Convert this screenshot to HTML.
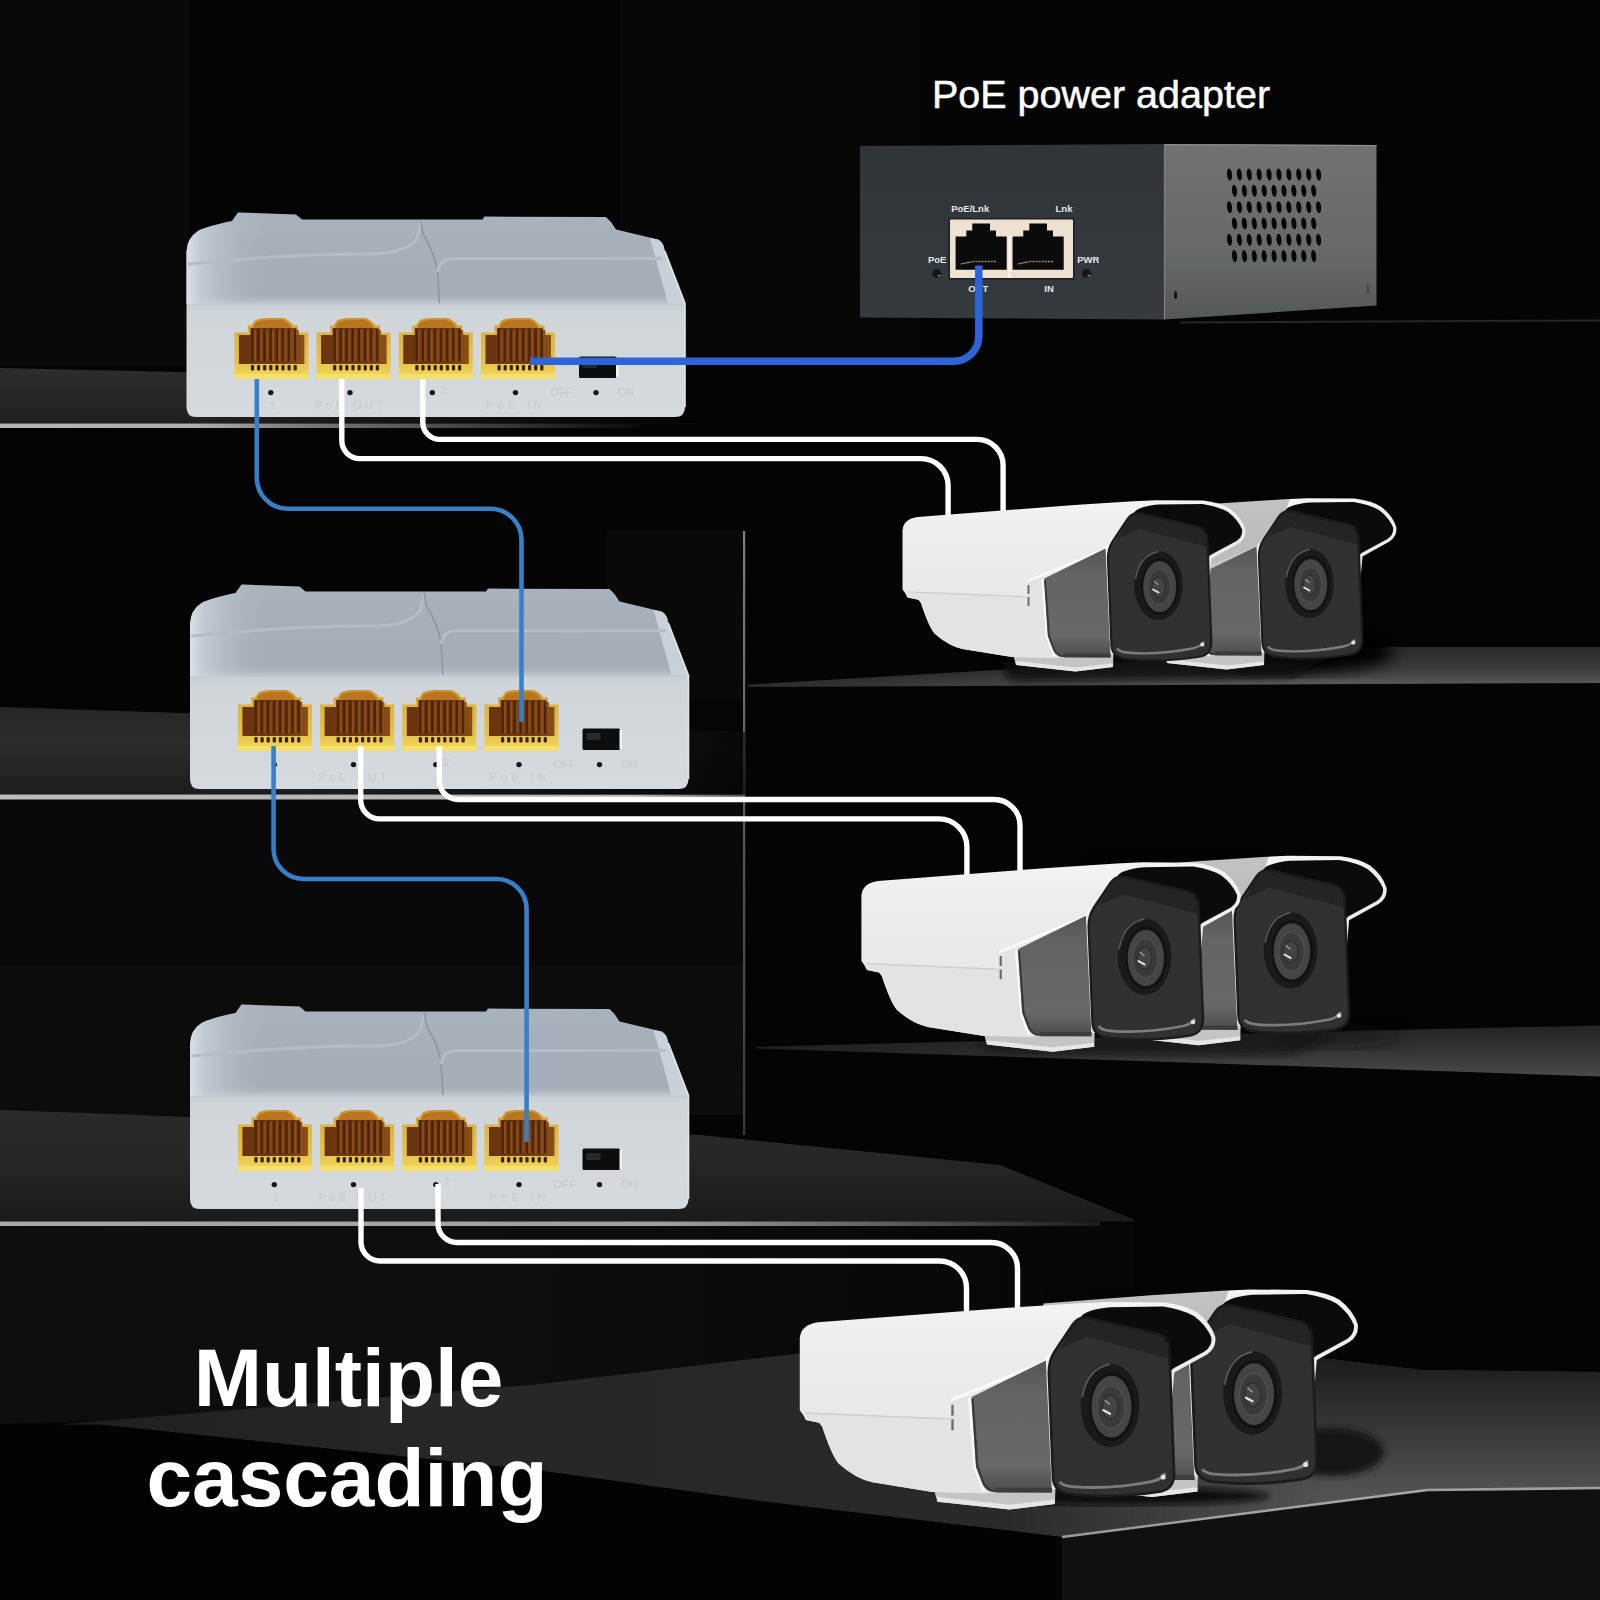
<!DOCTYPE html>
<html lang="en"><head><meta charset="utf-8"><title>Multiple cascading</title>
<style>
html,body{margin:0;padding:0;background:#050505;}
body{width:1600px;height:1600px;overflow:hidden;font-family:"Liberation Sans",sans-serif;}
svg{display:block;}
svg text{font-family:"Liberation Sans",sans-serif;}
</style></head><body>
<svg width="1600" height="1600" viewBox="0 0 1600 1600">

<defs>
  <linearGradient id="stepL" x1="0" y1="0" x2="0" y2="1">
    <stop offset="0" stop-color="#3d3d3d"/><stop offset="1" stop-color="#1b1b1b"/>
  </linearGradient>
  <linearGradient id="fadeR" x1="0" y1="0" x2="1" y2="0">
    <stop offset="0" stop-color="#fff" stop-opacity="1"/><stop offset="0.75" stop-color="#fff" stop-opacity="1"/><stop offset="1" stop-color="#fff" stop-opacity="0"/>
  </linearGradient>
  <linearGradient id="swTop" x1="0" y1="0" x2="0" y2="1">
    <stop offset="0" stop-color="#c9d1d9"/><stop offset="1" stop-color="#d3dae1"/>
  </linearGradient>
  <linearGradient id="swBody" x1="0" y1="212" x2="0" y2="417" gradientUnits="userSpaceOnUse">
    <stop offset="0" stop-color="#a9b3bd"/><stop offset="0.2" stop-color="#a5afb9"/><stop offset="0.4" stop-color="#a4aeb8"/><stop offset="0.425" stop-color="#adb6c0"/><stop offset="0.46" stop-color="#cbd2d7"/><stop offset="0.5" stop-color="#cfd5d9"/><stop offset="1" stop-color="#d5dade"/></linearGradient>
  <linearGradient id="swLeft" x1="186" y1="0" x2="262" y2="0" gradientUnits="userSpaceOnUse">
    <stop offset="0" stop-color="#dde3ea" stop-opacity="0.95"/><stop offset="0.2" stop-color="#cdd4dc" stop-opacity="0.7"/><stop offset="1" stop-color="#b0b9c3" stop-opacity="0"/>
  </linearGradient>
  <linearGradient id="swFront" x1="0" y1="0" x2="0" y2="1">
    <stop offset="0" stop-color="#dbe1e7"/><stop offset="1" stop-color="#e3e8ec"/>
  </linearGradient>
  <linearGradient id="portG" x1="0" y1="0" x2="0" y2="1">
    <stop offset="0" stop-color="#c9902a"/><stop offset="0.25" stop-color="#dcb440"/><stop offset="0.7" stop-color="#e4c24a"/><stop offset="1" stop-color="#f2d85c"/></linearGradient>
  <linearGradient id="portIn" x1="0" y1="0" x2="1" y2="0">
    <stop offset="0" stop-color="#6a3410"/><stop offset="0.7" stop-color="#733c12"/><stop offset="1" stop-color="#8a4f18"/></linearGradient>
  <linearGradient id="camSide" x1="0" y1="0" x2="0" y2="1">
    <stop offset="0" stop-color="#555"/><stop offset="0.25" stop-color="#646464"/><stop offset="0.8" stop-color="#686868"/><stop offset="1" stop-color="#4c4c4c"/></linearGradient>
  <linearGradient id="camBody" x1="0" y1="0" x2="0" y2="1">
    <stop offset="0" stop-color="#f4f4f4"/><stop offset="0.15" stop-color="#eeeeee"/><stop offset="0.55" stop-color="#e9e9e9"/><stop offset="1" stop-color="#e6e6e6"/></linearGradient>
  <linearGradient id="camFront" x1="0" y1="0" x2="0" y2="1">
    <stop offset="0" stop-color="#262626"/><stop offset="1" stop-color="#303030"/>
  </linearGradient>
  <linearGradient id="adFront" x1="0" y1="0" x2="0" y2="1">
    <stop offset="0" stop-color="#30353a"/><stop offset="1" stop-color="#343a3d"/></linearGradient>
  <linearGradient id="adSide" x1="0" y1="0" x2="0" y2="1">
    <stop offset="0" stop-color="#6f7472"/><stop offset="0.6" stop-color="#666b6a"/><stop offset="1" stop-color="#54585a"/></linearGradient>
  <linearGradient id="floorG" x1="0" y1="0" x2="1" y2="0">
    <stop offset="0" stop-color="#1c1c1c"/><stop offset="0.5" stop-color="#2e2e2e"/><stop offset="1" stop-color="#2a2a2a"/>
  </linearGradient>
  <filter id="b1"><feGaussianBlur stdDeviation="1"/></filter>
  <filter id="b3"><feGaussianBlur stdDeviation="3"/></filter>
  <filter id="b8"><feGaussianBlur stdDeviation="8"/></filter>
</defs>

<g id="bg"><rect x="0" y="0" width="1600" height="1600" fill="#040404"/>
<rect x="0" y="0" width="190" height="366" fill="#090909"/>
<rect x="620" y="0" width="300" height="366" fill="#070707"/>
<rect x="0" y="800" width="745" height="310" fill="#090909"/>
<rect x="0" y="965" width="745" height="150" fill="#0c0c0c"/>
<linearGradient id="us3" gradientUnits="userSpaceOnUse" x1="500" y1="0" x2="1134" y2="0"><stop offset="0" stop-color="#0e0e0e"/><stop offset="1" stop-color="#060606"/></linearGradient>
<path d="M0,1224 L1134,1224 L1134,1345 L850,1348 L540,1384 L100,1421 L0,1424 Z" fill="url(#us3)"/>
<path d="M1180,322.5 L1600,320.5" stroke="#262626" stroke-width="2" fill="none"/>
<rect x="606" y="531" width="137" height="270" fill="#090909"/>
<linearGradient id="pil" gradientUnits="userSpaceOnUse" x1="0" y1="531" x2="0" y2="1135"><stop offset="0" stop-color="#808080"/><stop offset="0.45" stop-color="#5c5c5c"/><stop offset="1" stop-color="#3a3a3a"/></linearGradient>
<rect x="743" y="531" width="2.2" height="604" fill="url(#pil)"/>
<linearGradient id="lnF" gradientUnits="userSpaceOnUse" x1="0" y1="0" x2="640" y2="0"><stop offset="0" stop-color="#b4b4b4"/><stop offset="0.3" stop-color="#b0b0b0"/><stop offset="0.45" stop-color="#808080"/><stop offset="1" stop-color="#0a0a0a"/></linearGradient>
<linearGradient id="lnF2" gradientUnits="userSpaceOnUse" x1="0" y1="0" x2="745" y2="0"><stop offset="0" stop-color="#bcbcbc"/><stop offset="0.85" stop-color="#b4b4b4"/><stop offset="1" stop-color="#555"/></linearGradient>
<linearGradient id="st1" gradientUnits="userSpaceOnUse" x1="0" y1="368" x2="0" y2="423.5"><stop offset="0" stop-color="#2d2d2d"/><stop offset="0.4" stop-color="#282828"/><stop offset="1" stop-color="#1f1f1f"/></linearGradient>
<path d="M0,368 L700,384 L700,423.5 L0,423.5 Z" fill="url(#st1)"/>
<rect x="0" y="423.5" width="640" height="4.5" fill="url(#lnF)"/>
<linearGradient id="st2" gradientUnits="userSpaceOnUse" x1="0" y1="707" x2="0" y2="794.5"><stop offset="0" stop-color="#262626"/><stop offset="0.4" stop-color="#2d2d2d"/><stop offset="1" stop-color="#1d1d1d"/></linearGradient>
<path d="M0,707 L745,732 L745,794.5 L0,794.5 Z" fill="url(#st2)"/>
<rect x="0" y="794.5" width="745" height="5" fill="url(#lnF2)"/>
<linearGradient id="fadeK" gradientUnits="userSpaceOnUse" x1="200" y1="0" x2="680" y2="0"><stop offset="0" stop-color="#040404" stop-opacity="0"/><stop offset="1" stop-color="#040404" stop-opacity="1"/></linearGradient>
<rect x="200" y="360" width="600" height="63.5" fill="url(#fadeK)"/>
<linearGradient id="fadeK2" gradientUnits="userSpaceOnUse" x1="300" y1="0" x2="745" y2="0"><stop offset="0" stop-color="#040404" stop-opacity="0"/><stop offset="1" stop-color="#040404" stop-opacity="0.9"/></linearGradient>
<rect x="300" y="700" width="443" height="94.5" fill="url(#fadeK2)"/>
<linearGradient id="st3" gradientUnits="userSpaceOnUse" x1="0" y1="1110" x2="0" y2="1221.5"><stop offset="0" stop-color="#2a2a2a"/><stop offset="0.4" stop-color="#272727"/><stop offset="1" stop-color="#1b1b1b"/></linearGradient>
<path d="M0,1110 L700,1135 L1000,1165 L1134,1219.5 L1134,1221.5 L0,1221.5 Z" fill="url(#st3)"/>
<linearGradient id="ln3" gradientUnits="userSpaceOnUse" x1="0" y1="0" x2="1100" y2="0"><stop offset="0" stop-color="#a8a8a8"/><stop offset="0.6" stop-color="#a0a0a0"/><stop offset="0.85" stop-color="#505050"/><stop offset="1" stop-color="#1a1a1a"/></linearGradient>
<rect x="0" y="1221.5" width="1100" height="4.5" fill="url(#ln3)"/>
<linearGradient id="sh1" gradientUnits="userSpaceOnUse" x1="0" y1="647" x2="0" y2="684"><stop offset="0" stop-color="#2a2a2a"/><stop offset="0.6" stop-color="#3c3c3c"/><stop offset="1" stop-color="#585858"/></linearGradient>
<path d="M748,684.5 L1390,647 L1600,647 L1600,683 L748,687 Z" fill="url(#sh1)"/>
<linearGradient id="shF" gradientUnits="userSpaceOnUse" x1="748" y1="0" x2="1250" y2="0"><stop offset="0" stop-color="#040404" stop-opacity="0.55"/><stop offset="1" stop-color="#040404" stop-opacity="0"/></linearGradient>
<rect x="747" y="640" width="513" height="50" fill="url(#shF)"/>
<linearGradient id="sh2" gradientUnits="userSpaceOnUse" x1="0" y1="1026" x2="0" y2="1076"><stop offset="0" stop-color="#242424"/><stop offset="0.55" stop-color="#363636"/><stop offset="1" stop-color="#4a4a4a"/></linearGradient>
<path d="M756,1047 L1392,1030 L1600,1025.5 L1600,1076.5 L1200,1063 L756,1048.5 Z" fill="url(#sh2)"/>
<linearGradient id="shF2" gradientUnits="userSpaceOnUse" x1="756" y1="0" x2="1250" y2="0"><stop offset="0" stop-color="#040404" stop-opacity="0.4"/><stop offset="1" stop-color="#040404" stop-opacity="0"/></linearGradient>
<rect x="750" y="1020" width="520" height="72" fill="url(#shF2)"/>
<ellipse cx="1290" cy="652" rx="105" ry="22" fill="#050505" filter="url(#b8)"/>
<path d="M1000,662 L1300,640 L1340,652 L1290,678 L1010,681 Z" fill="#080808" opacity="0.8" filter="url(#b3)"/>
<ellipse cx="1340" cy="1036" rx="60" ry="12" fill="#0c0c0c" opacity="0.45" filter="url(#b8)"/>
<path d="M975,1041 L1290,1030 L1335,1038 L1290,1056 L990,1052 Z" fill="#0a0a0a" opacity="0.55" filter="url(#b3)"/>
<linearGradient id="fl" gradientUnits="userSpaceOnUse" x1="60" y1="0" x2="1100" y2="0"><stop offset="0" stop-color="#1f1f1f"/><stop offset="0.3" stop-color="#262626"/><stop offset="1" stop-color="#2a2a2a"/></linearGradient>
<path d="M60,1424.5 L100,1421 L540,1384 L760,1358 L850,1348 L1313,1357 L1422,1370 L1600,1372 L1600,1488 L1427.5,1490 L1062,1537 L760,1501 L540,1470.6 L100,1424.5 Z" fill="url(#fl)"/>
<linearGradient id="flv" gradientUnits="userSpaceOnUse" x1="0" y1="1360" x2="0" y2="1492"><stop offset="0" stop-color="#1c1c1c"/><stop offset="0.5" stop-color="#363636"/><stop offset="1" stop-color="#525252"/></linearGradient>
<linearGradient id="flm" gradientUnits="userSpaceOnUse" x1="1000" y1="0" x2="1320" y2="0"><stop offset="0" stop-color="#fff" stop-opacity="0"/><stop offset="1" stop-color="#fff" stop-opacity="1"/></linearGradient>
<mask id="flmask"><rect x="0" y="1300" width="1600" height="300" fill="url(#flm)"/></mask>
<path d="M60,1424.5 L100,1421 L540,1384 L760,1358 L850,1348 L1313,1357 L1422,1370 L1600,1372 L1600,1488 L1427.5,1490 L1062,1537 L760,1501 L540,1470.6 L100,1424.5 Z" fill="url(#flv)" mask="url(#flmask)"/>
<path d="M1062,1537 L1427.5,1490 L1600,1488 L1600,1600 L1062,1600 Z" fill="#101010"/>
<path d="M60,1425.5 L100,1425 L540,1471 L760,1501.5 L1062,1537 L1062,1600 L0,1600 L0,1425.5 Z" fill="#030303"/>
<linearGradient id="fle" gradientUnits="userSpaceOnUse" x1="1062" y1="0" x2="1430" y2="0"><stop offset="0" stop-color="#9a9a9a"/><stop offset="1" stop-color="#a8a8a8"/></linearGradient>
<path d="M1062,1537 L1427.5,1490" stroke="url(#fle)" stroke-width="2.4" fill="none"/>
<path d="M1427.5,1490 L1600,1488" stroke="#a0a0a0" stroke-width="2.6" fill="none"/>
<ellipse cx="1332" cy="1452" rx="52" ry="24" fill="#141414" filter="url(#b3)"/>
<ellipse cx="1120" cy="1496" rx="150" ry="9" fill="#0c0c0c" filter="url(#b3)"/></g>
<!--SHELVES-->
<g id="adapter"><path d="M860,146 L1164,144 L1164,319.5 L860,317.5 Z" fill="url(#adFront)"/>
<path d="M1164,144 L1376.5,145 L1376.5,305.5 L1164,319.5 Z" fill="url(#adSide)"/>
<path d="M1164,144.6 L1376.5,145.6" stroke="#8a8f8d" stroke-width="1.4" fill="none"/>
<path d="M1164.5,144 L1164.5,319.5" stroke="#7e8381" stroke-width="1.2" fill="none"/>
<ellipse cx="1229.5" cy="174.5" rx="2.5" ry="6" fill="#050606" transform="rotate(-6 1229.5 174.5)"/>
<ellipse cx="1239.4" cy="174.5" rx="2.5" ry="6" fill="#050606" transform="rotate(-6 1239.4 174.5)"/>
<ellipse cx="1249.3" cy="174.5" rx="2.5" ry="6" fill="#050606" transform="rotate(-6 1249.3 174.5)"/>
<ellipse cx="1259.2" cy="174.5" rx="2.5" ry="6" fill="#050606" transform="rotate(-6 1259.2 174.5)"/>
<ellipse cx="1269.1" cy="174.5" rx="2.5" ry="6" fill="#050606" transform="rotate(-6 1269.1 174.5)"/>
<ellipse cx="1279.0" cy="174.5" rx="2.5" ry="6" fill="#050606" transform="rotate(-6 1279.0 174.5)"/>
<ellipse cx="1288.9" cy="174.5" rx="2.5" ry="6" fill="#050606" transform="rotate(-6 1288.9 174.5)"/>
<ellipse cx="1298.8" cy="174.5" rx="2.5" ry="6" fill="#050606" transform="rotate(-6 1298.8 174.5)"/>
<ellipse cx="1308.7" cy="174.5" rx="2.5" ry="6" fill="#050606" transform="rotate(-6 1308.7 174.5)"/>
<ellipse cx="1318.6" cy="174.5" rx="2.5" ry="6" fill="#050606" transform="rotate(-6 1318.6 174.5)"/>
<ellipse cx="1234.5" cy="190.8" rx="2.5" ry="6" fill="#050606" transform="rotate(-6 1234.5 190.8)"/>
<ellipse cx="1244.4" cy="190.8" rx="2.5" ry="6" fill="#050606" transform="rotate(-6 1244.4 190.8)"/>
<ellipse cx="1254.3" cy="190.8" rx="2.5" ry="6" fill="#050606" transform="rotate(-6 1254.3 190.8)"/>
<ellipse cx="1264.2" cy="190.8" rx="2.5" ry="6" fill="#050606" transform="rotate(-6 1264.2 190.8)"/>
<ellipse cx="1274.1" cy="190.8" rx="2.5" ry="6" fill="#050606" transform="rotate(-6 1274.1 190.8)"/>
<ellipse cx="1284.0" cy="190.8" rx="2.5" ry="6" fill="#050606" transform="rotate(-6 1284.0 190.8)"/>
<ellipse cx="1293.9" cy="190.8" rx="2.5" ry="6" fill="#050606" transform="rotate(-6 1293.9 190.8)"/>
<ellipse cx="1303.8" cy="190.8" rx="2.5" ry="6" fill="#050606" transform="rotate(-6 1303.8 190.8)"/>
<ellipse cx="1313.7" cy="190.8" rx="2.5" ry="6" fill="#050606" transform="rotate(-6 1313.7 190.8)"/>
<ellipse cx="1229.5" cy="207.1" rx="2.5" ry="6" fill="#050606" transform="rotate(-6 1229.5 207.1)"/>
<ellipse cx="1239.4" cy="207.1" rx="2.5" ry="6" fill="#050606" transform="rotate(-6 1239.4 207.1)"/>
<ellipse cx="1249.3" cy="207.1" rx="2.5" ry="6" fill="#050606" transform="rotate(-6 1249.3 207.1)"/>
<ellipse cx="1259.2" cy="207.1" rx="2.5" ry="6" fill="#050606" transform="rotate(-6 1259.2 207.1)"/>
<ellipse cx="1269.1" cy="207.1" rx="2.5" ry="6" fill="#050606" transform="rotate(-6 1269.1 207.1)"/>
<ellipse cx="1279.0" cy="207.1" rx="2.5" ry="6" fill="#050606" transform="rotate(-6 1279.0 207.1)"/>
<ellipse cx="1288.9" cy="207.1" rx="2.5" ry="6" fill="#050606" transform="rotate(-6 1288.9 207.1)"/>
<ellipse cx="1298.8" cy="207.1" rx="2.5" ry="6" fill="#050606" transform="rotate(-6 1298.8 207.1)"/>
<ellipse cx="1308.7" cy="207.1" rx="2.5" ry="6" fill="#050606" transform="rotate(-6 1308.7 207.1)"/>
<ellipse cx="1318.6" cy="207.1" rx="2.5" ry="6" fill="#050606" transform="rotate(-6 1318.6 207.1)"/>
<ellipse cx="1234.5" cy="223.4" rx="2.5" ry="6" fill="#050606" transform="rotate(-6 1234.5 223.4)"/>
<ellipse cx="1244.4" cy="223.4" rx="2.5" ry="6" fill="#050606" transform="rotate(-6 1244.4 223.4)"/>
<ellipse cx="1254.3" cy="223.4" rx="2.5" ry="6" fill="#050606" transform="rotate(-6 1254.3 223.4)"/>
<ellipse cx="1264.2" cy="223.4" rx="2.5" ry="6" fill="#050606" transform="rotate(-6 1264.2 223.4)"/>
<ellipse cx="1274.1" cy="223.4" rx="2.5" ry="6" fill="#050606" transform="rotate(-6 1274.1 223.4)"/>
<ellipse cx="1284.0" cy="223.4" rx="2.5" ry="6" fill="#050606" transform="rotate(-6 1284.0 223.4)"/>
<ellipse cx="1293.9" cy="223.4" rx="2.5" ry="6" fill="#050606" transform="rotate(-6 1293.9 223.4)"/>
<ellipse cx="1303.8" cy="223.4" rx="2.5" ry="6" fill="#050606" transform="rotate(-6 1303.8 223.4)"/>
<ellipse cx="1313.7" cy="223.4" rx="2.5" ry="6" fill="#050606" transform="rotate(-6 1313.7 223.4)"/>
<ellipse cx="1229.5" cy="239.7" rx="2.5" ry="6" fill="#050606" transform="rotate(-6 1229.5 239.7)"/>
<ellipse cx="1239.4" cy="239.7" rx="2.5" ry="6" fill="#050606" transform="rotate(-6 1239.4 239.7)"/>
<ellipse cx="1249.3" cy="239.7" rx="2.5" ry="6" fill="#050606" transform="rotate(-6 1249.3 239.7)"/>
<ellipse cx="1259.2" cy="239.7" rx="2.5" ry="6" fill="#050606" transform="rotate(-6 1259.2 239.7)"/>
<ellipse cx="1269.1" cy="239.7" rx="2.5" ry="6" fill="#050606" transform="rotate(-6 1269.1 239.7)"/>
<ellipse cx="1279.0" cy="239.7" rx="2.5" ry="6" fill="#050606" transform="rotate(-6 1279.0 239.7)"/>
<ellipse cx="1288.9" cy="239.7" rx="2.5" ry="6" fill="#050606" transform="rotate(-6 1288.9 239.7)"/>
<ellipse cx="1298.8" cy="239.7" rx="2.5" ry="6" fill="#050606" transform="rotate(-6 1298.8 239.7)"/>
<ellipse cx="1308.7" cy="239.7" rx="2.5" ry="6" fill="#050606" transform="rotate(-6 1308.7 239.7)"/>
<ellipse cx="1318.6" cy="239.7" rx="2.5" ry="6" fill="#050606" transform="rotate(-6 1318.6 239.7)"/>
<ellipse cx="1234.5" cy="256.0" rx="2.5" ry="6" fill="#050606" transform="rotate(-6 1234.5 256.0)"/>
<ellipse cx="1244.4" cy="256.0" rx="2.5" ry="6" fill="#050606" transform="rotate(-6 1244.4 256.0)"/>
<ellipse cx="1254.3" cy="256.0" rx="2.5" ry="6" fill="#050606" transform="rotate(-6 1254.3 256.0)"/>
<ellipse cx="1264.2" cy="256.0" rx="2.5" ry="6" fill="#050606" transform="rotate(-6 1264.2 256.0)"/>
<ellipse cx="1274.1" cy="256.0" rx="2.5" ry="6" fill="#050606" transform="rotate(-6 1274.1 256.0)"/>
<ellipse cx="1284.0" cy="256.0" rx="2.5" ry="6" fill="#050606" transform="rotate(-6 1284.0 256.0)"/>
<ellipse cx="1293.9" cy="256.0" rx="2.5" ry="6" fill="#050606" transform="rotate(-6 1293.9 256.0)"/>
<ellipse cx="1303.8" cy="256.0" rx="2.5" ry="6" fill="#050606" transform="rotate(-6 1303.8 256.0)"/>
<ellipse cx="1313.7" cy="256.0" rx="2.5" ry="6" fill="#050606" transform="rotate(-6 1313.7 256.0)"/>
<ellipse cx="1175.5" cy="295" rx="1.6" ry="4" fill="#151718"/>
<ellipse cx="1368" cy="289" rx="1.8" ry="5" fill="#4a4e4f"/>
<rect x="948.5" y="218" width="126" height="61.5" rx="1.5" fill="#1d1f20"/>
<rect x="950" y="219.5" width="123" height="58.5" rx="1" fill="#efe1d2"/>
<rect x="1008.2" y="236" width="2.6" height="42" fill="#fbf3ea"/>
<path d="M955.6,236.6 L966.3,236.6 L966.3,230.6 L972.3,230.6 L972.3,223.5 L990,223.5 L990,230.6 L996,230.6 L996,236.6 L1006.7,236.6 L1006.7,269.8 L955.6,269.8 Z" fill="#0b0b0c"/>
<path d="M972.3,261.5 L997,261.5" stroke="#9a8f74" stroke-width="1.4" stroke-dasharray="2 1.1" fill="none"/>
<path d="M960.6,264 L971.3,261.8" stroke="#8c8c86" stroke-width="1.2" fill="none"/>
<path d="M1012.6,236.6 L1023.3,236.6 L1023.3,230.6 L1029.3,230.6 L1029.3,223.5 L1047,223.5 L1047,230.6 L1053,230.6 L1053,236.6 L1063.7,236.6 L1063.7,269.8 L1012.6,269.8 Z" fill="#0b0b0c"/>
<path d="M1029.3,261.5 L1054,261.5" stroke="#9a8f74" stroke-width="1.4" stroke-dasharray="2 1.1" fill="none"/>
<path d="M1017.6,264 L1028.3,261.8" stroke="#8c8c86" stroke-width="1.2" fill="none"/>
<circle cx="936.8" cy="273.4" r="4.4" fill="#141617"/>
<path d="M937.8,276 L940.4,275.2" stroke="#a8acae" stroke-width="1.2" fill="none"/>
<circle cx="1086.5" cy="273.4" r="4.4" fill="#141617"/>
<path d="M1087.5,276 L1090.1,275.2" stroke="#a8acae" stroke-width="1.2" fill="none"/>
<text x="970.2" y="212.2" font-size="9.5" font-weight="bold" fill="#e6e8e9" text-anchor="middle">PoE/Lnk</text>
<text x="1064" y="212.2" font-size="9.5" font-weight="bold" fill="#e6e8e9" text-anchor="middle">Lnk</text>
<text x="937.2" y="262.6" font-size="9.5" font-weight="bold" fill="#e6e8e9" text-anchor="middle">PoE</text>
<text x="1088.3" y="262.6" font-size="9.5" font-weight="bold" fill="#e6e8e9" text-anchor="middle">PWR</text>
<text x="978.2" y="291.7" font-size="9.5" font-weight="bold" fill="#e6e8e9" text-anchor="middle">OUT</text>
<text x="1049" y="291.7" font-size="9.5" font-weight="bold" fill="#e6e8e9" text-anchor="middle">IN</text></g>
<g id="switches"><g transform="translate(0,0)">
<path d="M196,417 Q186.5,417 186.5,407 L186.5,252 Q187,238 198,231 Q206,226.5 232,221 L238,212.5 L296,214.5 L302,219.5 L422,219.5 L482.5,219.4 L484.5,216.6 L606,217 L611,222 L616,229.5 L658,239.5 Q663.5,242 664.8,251 L685,303.5 L685,407 Q685,417 675,417 Z" fill="url(#swBody)"/>
<path d="M186.5,304 L186.5,252 Q187,238 198,231 Q206,226.5 232,221 L238,212.5 L262,213.5 L262,303 Z" fill="url(#swLeft)"/>
<path d="M650,238 L658,239.5 Q663.5,242 664.8,251 L685,303.5 L668,303.5 Z" fill="#cfd6dc" opacity="0.85"/>
<path d="M664.8,251 L685,303.5 L685,407" fill="none" stroke="#e1e6ea" stroke-width="1.6"/>
<path d="M188,264 Q300,253 372,254 Q408,253 417,238 L421,222" fill="none" stroke="#b3bdc7" stroke-width="3"/>
<path d="M420.6,221 L423.4,234.4 Q434,252 437.5,270 L439.4,303" fill="none" stroke="#87919c" stroke-width="1.3"/>
<path d="M437.8,272 Q439,259.5 452,258.8 L662.5,258.6" fill="none" stroke="#b3bdc7" stroke-width="3"/>
<path d="M255.4,320 Q261.4,318 267.4,318 L282.4,318 Q288.4,319 293.4,325.5 L297.9,325.5 L297.9,332.5 L308.4,332.5 L308.4,379 L234.4,379 L234.4,332.5 L247.9,332.5 L247.9,325.5 L251.4,325.5 Z" fill="url(#portG)"/>
<path d="M256.4,322 Q262.4,320 268.4,320 L281.4,320 Q287.4,321 291.4,327 L291.4,330 L253.4,330 L253.4,326 Z" fill="#b9761f"/>
<path d="M250.4,328 L295.4,328 L295.4,335 L304.4,335 L304.4,364 L238.9,364 L238.9,335 L250.4,335 Z" fill="url(#portIn)"/>
<rect x="251.2" y="328.5" width="2.6" height="33" fill="#4e240a"/>
<rect x="253.8" y="330" width="2.2" height="31" fill="#8a4c1b"/>
<rect x="250.9" y="365" width="3.2" height="5.5" rx="1.2" fill="#3b2207"/>
<rect x="257.3" y="328.5" width="2.6" height="33" fill="#4e240a"/>
<rect x="259.9" y="330" width="2.2" height="31" fill="#8a4c1b"/>
<rect x="257.0" y="365" width="3.2" height="5.5" rx="1.2" fill="#3b2207"/>
<rect x="263.4" y="328.5" width="2.6" height="33" fill="#4e240a"/>
<rect x="266.0" y="330" width="2.2" height="31" fill="#8a4c1b"/>
<rect x="263.1" y="365" width="3.2" height="5.5" rx="1.2" fill="#3b2207"/>
<rect x="269.5" y="328.5" width="2.6" height="33" fill="#4e240a"/>
<rect x="272.1" y="330" width="2.2" height="31" fill="#8a4c1b"/>
<rect x="269.2" y="365" width="3.2" height="5.5" rx="1.2" fill="#3b2207"/>
<rect x="275.6" y="328.5" width="2.6" height="33" fill="#4e240a"/>
<rect x="278.2" y="330" width="2.2" height="31" fill="#8a4c1b"/>
<rect x="275.3" y="365" width="3.2" height="5.5" rx="1.2" fill="#3b2207"/>
<rect x="281.7" y="328.5" width="2.6" height="33" fill="#4e240a"/>
<rect x="284.3" y="330" width="2.2" height="31" fill="#8a4c1b"/>
<rect x="281.4" y="365" width="3.2" height="5.5" rx="1.2" fill="#3b2207"/>
<rect x="287.8" y="328.5" width="2.6" height="33" fill="#4e240a"/>
<rect x="290.4" y="330" width="2.2" height="31" fill="#8a4c1b"/>
<rect x="287.5" y="365" width="3.2" height="5.5" rx="1.2" fill="#3b2207"/>
<rect x="293.9" y="328.5" width="2.6" height="33" fill="#4e240a"/>
<rect x="296.5" y="330" width="2.2" height="31" fill="#8a4c1b"/>
<rect x="293.6" y="365" width="3.2" height="5.5" rx="1.2" fill="#3b2207"/>
<rect x="234.4" y="374" width="74" height="5" fill="#f5e06a"/>
<path d="M337.6,320 Q343.6,318 349.6,318 L364.6,318 Q370.6,319 375.6,325.5 L380.1,325.5 L380.1,332.5 L390.6,332.5 L390.6,379 L316.6,379 L316.6,332.5 L330.1,332.5 L330.1,325.5 L333.6,325.5 Z" fill="url(#portG)"/>
<path d="M338.6,322 Q344.6,320 350.6,320 L363.6,320 Q369.6,321 373.6,327 L373.6,330 L335.6,330 L335.6,326 Z" fill="#b9761f"/>
<path d="M332.6,328 L377.6,328 L377.6,335 L386.6,335 L386.6,364 L321.1,364 L321.1,335 L332.6,335 Z" fill="url(#portIn)"/>
<rect x="333.4" y="328.5" width="2.6" height="33" fill="#4e240a"/>
<rect x="336.0" y="330" width="2.2" height="31" fill="#8a4c1b"/>
<rect x="333.1" y="365" width="3.2" height="5.5" rx="1.2" fill="#3b2207"/>
<rect x="339.5" y="328.5" width="2.6" height="33" fill="#4e240a"/>
<rect x="342.1" y="330" width="2.2" height="31" fill="#8a4c1b"/>
<rect x="339.2" y="365" width="3.2" height="5.5" rx="1.2" fill="#3b2207"/>
<rect x="345.6" y="328.5" width="2.6" height="33" fill="#4e240a"/>
<rect x="348.2" y="330" width="2.2" height="31" fill="#8a4c1b"/>
<rect x="345.3" y="365" width="3.2" height="5.5" rx="1.2" fill="#3b2207"/>
<rect x="351.7" y="328.5" width="2.6" height="33" fill="#4e240a"/>
<rect x="354.3" y="330" width="2.2" height="31" fill="#8a4c1b"/>
<rect x="351.4" y="365" width="3.2" height="5.5" rx="1.2" fill="#3b2207"/>
<rect x="357.8" y="328.5" width="2.6" height="33" fill="#4e240a"/>
<rect x="360.4" y="330" width="2.2" height="31" fill="#8a4c1b"/>
<rect x="357.5" y="365" width="3.2" height="5.5" rx="1.2" fill="#3b2207"/>
<rect x="363.9" y="328.5" width="2.6" height="33" fill="#4e240a"/>
<rect x="366.5" y="330" width="2.2" height="31" fill="#8a4c1b"/>
<rect x="363.6" y="365" width="3.2" height="5.5" rx="1.2" fill="#3b2207"/>
<rect x="370.0" y="328.5" width="2.6" height="33" fill="#4e240a"/>
<rect x="372.6" y="330" width="2.2" height="31" fill="#8a4c1b"/>
<rect x="369.7" y="365" width="3.2" height="5.5" rx="1.2" fill="#3b2207"/>
<rect x="376.1" y="328.5" width="2.6" height="33" fill="#4e240a"/>
<rect x="378.7" y="330" width="2.2" height="31" fill="#8a4c1b"/>
<rect x="375.8" y="365" width="3.2" height="5.5" rx="1.2" fill="#3b2207"/>
<rect x="316.6" y="374" width="74" height="5" fill="#f5e06a"/>
<path d="M419.8,320 Q425.8,318 431.8,318 L446.8,318 Q452.8,319 457.8,325.5 L462.3,325.5 L462.3,332.5 L472.8,332.5 L472.8,379 L398.8,379 L398.8,332.5 L412.3,332.5 L412.3,325.5 L415.8,325.5 Z" fill="url(#portG)"/>
<path d="M420.8,322 Q426.8,320 432.8,320 L445.8,320 Q451.8,321 455.8,327 L455.8,330 L417.8,330 L417.8,326 Z" fill="#b9761f"/>
<path d="M414.8,328 L459.8,328 L459.8,335 L468.8,335 L468.8,364 L403.3,364 L403.3,335 L414.8,335 Z" fill="url(#portIn)"/>
<rect x="415.6" y="328.5" width="2.6" height="33" fill="#4e240a"/>
<rect x="418.2" y="330" width="2.2" height="31" fill="#8a4c1b"/>
<rect x="415.3" y="365" width="3.2" height="5.5" rx="1.2" fill="#3b2207"/>
<rect x="421.7" y="328.5" width="2.6" height="33" fill="#4e240a"/>
<rect x="424.3" y="330" width="2.2" height="31" fill="#8a4c1b"/>
<rect x="421.4" y="365" width="3.2" height="5.5" rx="1.2" fill="#3b2207"/>
<rect x="427.8" y="328.5" width="2.6" height="33" fill="#4e240a"/>
<rect x="430.4" y="330" width="2.2" height="31" fill="#8a4c1b"/>
<rect x="427.5" y="365" width="3.2" height="5.5" rx="1.2" fill="#3b2207"/>
<rect x="433.9" y="328.5" width="2.6" height="33" fill="#4e240a"/>
<rect x="436.5" y="330" width="2.2" height="31" fill="#8a4c1b"/>
<rect x="433.6" y="365" width="3.2" height="5.5" rx="1.2" fill="#3b2207"/>
<rect x="440.0" y="328.5" width="2.6" height="33" fill="#4e240a"/>
<rect x="442.6" y="330" width="2.2" height="31" fill="#8a4c1b"/>
<rect x="439.7" y="365" width="3.2" height="5.5" rx="1.2" fill="#3b2207"/>
<rect x="446.1" y="328.5" width="2.6" height="33" fill="#4e240a"/>
<rect x="448.7" y="330" width="2.2" height="31" fill="#8a4c1b"/>
<rect x="445.8" y="365" width="3.2" height="5.5" rx="1.2" fill="#3b2207"/>
<rect x="452.2" y="328.5" width="2.6" height="33" fill="#4e240a"/>
<rect x="454.8" y="330" width="2.2" height="31" fill="#8a4c1b"/>
<rect x="451.9" y="365" width="3.2" height="5.5" rx="1.2" fill="#3b2207"/>
<rect x="458.3" y="328.5" width="2.6" height="33" fill="#4e240a"/>
<rect x="460.9" y="330" width="2.2" height="31" fill="#8a4c1b"/>
<rect x="458.0" y="365" width="3.2" height="5.5" rx="1.2" fill="#3b2207"/>
<rect x="398.8" y="374" width="74" height="5" fill="#f5e06a"/>
<path d="M502.0,320 Q508.0,318 514.0,318 L529.0,318 Q535.0,319 540.0,325.5 L544.5,325.5 L544.5,332.5 L555.0,332.5 L555.0,379 L481.0,379 L481.0,332.5 L494.5,332.5 L494.5,325.5 L498.0,325.5 Z" fill="url(#portG)"/>
<path d="M503.0,322 Q509.0,320 515.0,320 L528.0,320 Q534.0,321 538.0,327 L538.0,330 L500.0,330 L500.0,326 Z" fill="#b9761f"/>
<path d="M497.0,328 L542.0,328 L542.0,335 L551.0,335 L551.0,364 L485.5,364 L485.5,335 L497.0,335 Z" fill="url(#portIn)"/>
<rect x="497.8" y="328.5" width="2.6" height="33" fill="#4e240a"/>
<rect x="500.4" y="330" width="2.2" height="31" fill="#8a4c1b"/>
<rect x="497.5" y="365" width="3.2" height="5.5" rx="1.2" fill="#3b2207"/>
<rect x="503.9" y="328.5" width="2.6" height="33" fill="#4e240a"/>
<rect x="506.5" y="330" width="2.2" height="31" fill="#8a4c1b"/>
<rect x="503.6" y="365" width="3.2" height="5.5" rx="1.2" fill="#3b2207"/>
<rect x="510.0" y="328.5" width="2.6" height="33" fill="#4e240a"/>
<rect x="512.6" y="330" width="2.2" height="31" fill="#8a4c1b"/>
<rect x="509.7" y="365" width="3.2" height="5.5" rx="1.2" fill="#3b2207"/>
<rect x="516.1" y="328.5" width="2.6" height="33" fill="#4e240a"/>
<rect x="518.7" y="330" width="2.2" height="31" fill="#8a4c1b"/>
<rect x="515.8" y="365" width="3.2" height="5.5" rx="1.2" fill="#3b2207"/>
<rect x="522.2" y="328.5" width="2.6" height="33" fill="#4e240a"/>
<rect x="524.8" y="330" width="2.2" height="31" fill="#8a4c1b"/>
<rect x="521.9" y="365" width="3.2" height="5.5" rx="1.2" fill="#3b2207"/>
<rect x="528.3" y="328.5" width="2.6" height="33" fill="#4e240a"/>
<rect x="530.9" y="330" width="2.2" height="31" fill="#8a4c1b"/>
<rect x="528.0" y="365" width="3.2" height="5.5" rx="1.2" fill="#3b2207"/>
<rect x="534.4" y="328.5" width="2.6" height="33" fill="#4e240a"/>
<rect x="537.0" y="330" width="2.2" height="31" fill="#8a4c1b"/>
<rect x="534.1" y="365" width="3.2" height="5.5" rx="1.2" fill="#3b2207"/>
<rect x="540.5" y="328.5" width="2.6" height="33" fill="#4e240a"/>
<rect x="543.1" y="330" width="2.2" height="31" fill="#8a4c1b"/>
<rect x="540.2" y="365" width="3.2" height="5.5" rx="1.2" fill="#3b2207"/>
<rect x="481.0" y="374" width="74" height="5" fill="#f5e06a"/>
<rect x="579" y="356.5" width="37.5" height="21.5" rx="1.5" fill="#0c0d0f"/>
<rect x="583" y="361" width="14" height="7" fill="#262a2d"/>
<rect x="616" y="358" width="2.6" height="19" fill="#eef2f5"/>
<circle cx="270.8" cy="392.6" r="2.7" fill="#15171a"/>
<circle cx="350" cy="392.6" r="2.7" fill="#15171a"/>
<circle cx="432.3" cy="392.6" r="2.7" fill="#15171a"/>
<circle cx="515.5" cy="392.6" r="2.7" fill="#15171a"/>
<circle cx="596" cy="392.6" r="2.7" fill="#15171a"/>
<text x="272" y="409" font-size="11" fill="#c3cad1" text-anchor="middle">1</text>
<text x="349" y="409" font-size="11" fill="#c3cad1" text-anchor="middle" textLength="68">PoE OUT</text>
<text x="443" y="394" font-size="11" fill="#c3cad1" text-anchor="middle">2</text>
<text x="514" y="409" font-size="11" fill="#c3cad1" text-anchor="middle" textLength="56">PoE IN</text>
<text x="561" y="396" font-size="11" fill="#c3cad1" text-anchor="middle">OFF</text>
<text x="626" y="396" font-size="11" fill="#c3cad1" text-anchor="middle">ON</text>
</g><g transform="translate(3.5,372)">
<path d="M196,417 Q186.5,417 186.5,407 L186.5,252 Q187,238 198,231 Q206,226.5 232,221 L238,212.5 L296,214.5 L302,219.5 L422,219.5 L482.5,219.4 L484.5,216.6 L606,217 L611,222 L616,229.5 L658,239.5 Q663.5,242 664.8,251 L685,303.5 L685,407 Q685,417 675,417 Z" fill="url(#swBody)"/>
<path d="M186.5,304 L186.5,252 Q187,238 198,231 Q206,226.5 232,221 L238,212.5 L262,213.5 L262,303 Z" fill="url(#swLeft)"/>
<path d="M650,238 L658,239.5 Q663.5,242 664.8,251 L685,303.5 L668,303.5 Z" fill="#cfd6dc" opacity="0.85"/>
<path d="M664.8,251 L685,303.5 L685,407" fill="none" stroke="#e1e6ea" stroke-width="1.6"/>
<path d="M188,264 Q300,253 372,254 Q408,253 417,238 L421,222" fill="none" stroke="#b3bdc7" stroke-width="3"/>
<path d="M420.6,221 L423.4,234.4 Q434,252 437.5,270 L439.4,303" fill="none" stroke="#87919c" stroke-width="1.3"/>
<path d="M437.8,272 Q439,259.5 452,258.8 L662.5,258.6" fill="none" stroke="#b3bdc7" stroke-width="3"/>
<path d="M255.4,320 Q261.4,318 267.4,318 L282.4,318 Q288.4,319 293.4,325.5 L297.9,325.5 L297.9,332.5 L308.4,332.5 L308.4,379 L234.4,379 L234.4,332.5 L247.9,332.5 L247.9,325.5 L251.4,325.5 Z" fill="url(#portG)"/>
<path d="M256.4,322 Q262.4,320 268.4,320 L281.4,320 Q287.4,321 291.4,327 L291.4,330 L253.4,330 L253.4,326 Z" fill="#b9761f"/>
<path d="M250.4,328 L295.4,328 L295.4,335 L304.4,335 L304.4,364 L238.9,364 L238.9,335 L250.4,335 Z" fill="url(#portIn)"/>
<rect x="251.2" y="328.5" width="2.6" height="33" fill="#4e240a"/>
<rect x="253.8" y="330" width="2.2" height="31" fill="#8a4c1b"/>
<rect x="250.9" y="365" width="3.2" height="5.5" rx="1.2" fill="#3b2207"/>
<rect x="257.3" y="328.5" width="2.6" height="33" fill="#4e240a"/>
<rect x="259.9" y="330" width="2.2" height="31" fill="#8a4c1b"/>
<rect x="257.0" y="365" width="3.2" height="5.5" rx="1.2" fill="#3b2207"/>
<rect x="263.4" y="328.5" width="2.6" height="33" fill="#4e240a"/>
<rect x="266.0" y="330" width="2.2" height="31" fill="#8a4c1b"/>
<rect x="263.1" y="365" width="3.2" height="5.5" rx="1.2" fill="#3b2207"/>
<rect x="269.5" y="328.5" width="2.6" height="33" fill="#4e240a"/>
<rect x="272.1" y="330" width="2.2" height="31" fill="#8a4c1b"/>
<rect x="269.2" y="365" width="3.2" height="5.5" rx="1.2" fill="#3b2207"/>
<rect x="275.6" y="328.5" width="2.6" height="33" fill="#4e240a"/>
<rect x="278.2" y="330" width="2.2" height="31" fill="#8a4c1b"/>
<rect x="275.3" y="365" width="3.2" height="5.5" rx="1.2" fill="#3b2207"/>
<rect x="281.7" y="328.5" width="2.6" height="33" fill="#4e240a"/>
<rect x="284.3" y="330" width="2.2" height="31" fill="#8a4c1b"/>
<rect x="281.4" y="365" width="3.2" height="5.5" rx="1.2" fill="#3b2207"/>
<rect x="287.8" y="328.5" width="2.6" height="33" fill="#4e240a"/>
<rect x="290.4" y="330" width="2.2" height="31" fill="#8a4c1b"/>
<rect x="287.5" y="365" width="3.2" height="5.5" rx="1.2" fill="#3b2207"/>
<rect x="293.9" y="328.5" width="2.6" height="33" fill="#4e240a"/>
<rect x="296.5" y="330" width="2.2" height="31" fill="#8a4c1b"/>
<rect x="293.6" y="365" width="3.2" height="5.5" rx="1.2" fill="#3b2207"/>
<rect x="234.4" y="374" width="74" height="5" fill="#f5e06a"/>
<path d="M337.6,320 Q343.6,318 349.6,318 L364.6,318 Q370.6,319 375.6,325.5 L380.1,325.5 L380.1,332.5 L390.6,332.5 L390.6,379 L316.6,379 L316.6,332.5 L330.1,332.5 L330.1,325.5 L333.6,325.5 Z" fill="url(#portG)"/>
<path d="M338.6,322 Q344.6,320 350.6,320 L363.6,320 Q369.6,321 373.6,327 L373.6,330 L335.6,330 L335.6,326 Z" fill="#b9761f"/>
<path d="M332.6,328 L377.6,328 L377.6,335 L386.6,335 L386.6,364 L321.1,364 L321.1,335 L332.6,335 Z" fill="url(#portIn)"/>
<rect x="333.4" y="328.5" width="2.6" height="33" fill="#4e240a"/>
<rect x="336.0" y="330" width="2.2" height="31" fill="#8a4c1b"/>
<rect x="333.1" y="365" width="3.2" height="5.5" rx="1.2" fill="#3b2207"/>
<rect x="339.5" y="328.5" width="2.6" height="33" fill="#4e240a"/>
<rect x="342.1" y="330" width="2.2" height="31" fill="#8a4c1b"/>
<rect x="339.2" y="365" width="3.2" height="5.5" rx="1.2" fill="#3b2207"/>
<rect x="345.6" y="328.5" width="2.6" height="33" fill="#4e240a"/>
<rect x="348.2" y="330" width="2.2" height="31" fill="#8a4c1b"/>
<rect x="345.3" y="365" width="3.2" height="5.5" rx="1.2" fill="#3b2207"/>
<rect x="351.7" y="328.5" width="2.6" height="33" fill="#4e240a"/>
<rect x="354.3" y="330" width="2.2" height="31" fill="#8a4c1b"/>
<rect x="351.4" y="365" width="3.2" height="5.5" rx="1.2" fill="#3b2207"/>
<rect x="357.8" y="328.5" width="2.6" height="33" fill="#4e240a"/>
<rect x="360.4" y="330" width="2.2" height="31" fill="#8a4c1b"/>
<rect x="357.5" y="365" width="3.2" height="5.5" rx="1.2" fill="#3b2207"/>
<rect x="363.9" y="328.5" width="2.6" height="33" fill="#4e240a"/>
<rect x="366.5" y="330" width="2.2" height="31" fill="#8a4c1b"/>
<rect x="363.6" y="365" width="3.2" height="5.5" rx="1.2" fill="#3b2207"/>
<rect x="370.0" y="328.5" width="2.6" height="33" fill="#4e240a"/>
<rect x="372.6" y="330" width="2.2" height="31" fill="#8a4c1b"/>
<rect x="369.7" y="365" width="3.2" height="5.5" rx="1.2" fill="#3b2207"/>
<rect x="376.1" y="328.5" width="2.6" height="33" fill="#4e240a"/>
<rect x="378.7" y="330" width="2.2" height="31" fill="#8a4c1b"/>
<rect x="375.8" y="365" width="3.2" height="5.5" rx="1.2" fill="#3b2207"/>
<rect x="316.6" y="374" width="74" height="5" fill="#f5e06a"/>
<path d="M419.8,320 Q425.8,318 431.8,318 L446.8,318 Q452.8,319 457.8,325.5 L462.3,325.5 L462.3,332.5 L472.8,332.5 L472.8,379 L398.8,379 L398.8,332.5 L412.3,332.5 L412.3,325.5 L415.8,325.5 Z" fill="url(#portG)"/>
<path d="M420.8,322 Q426.8,320 432.8,320 L445.8,320 Q451.8,321 455.8,327 L455.8,330 L417.8,330 L417.8,326 Z" fill="#b9761f"/>
<path d="M414.8,328 L459.8,328 L459.8,335 L468.8,335 L468.8,364 L403.3,364 L403.3,335 L414.8,335 Z" fill="url(#portIn)"/>
<rect x="415.6" y="328.5" width="2.6" height="33" fill="#4e240a"/>
<rect x="418.2" y="330" width="2.2" height="31" fill="#8a4c1b"/>
<rect x="415.3" y="365" width="3.2" height="5.5" rx="1.2" fill="#3b2207"/>
<rect x="421.7" y="328.5" width="2.6" height="33" fill="#4e240a"/>
<rect x="424.3" y="330" width="2.2" height="31" fill="#8a4c1b"/>
<rect x="421.4" y="365" width="3.2" height="5.5" rx="1.2" fill="#3b2207"/>
<rect x="427.8" y="328.5" width="2.6" height="33" fill="#4e240a"/>
<rect x="430.4" y="330" width="2.2" height="31" fill="#8a4c1b"/>
<rect x="427.5" y="365" width="3.2" height="5.5" rx="1.2" fill="#3b2207"/>
<rect x="433.9" y="328.5" width="2.6" height="33" fill="#4e240a"/>
<rect x="436.5" y="330" width="2.2" height="31" fill="#8a4c1b"/>
<rect x="433.6" y="365" width="3.2" height="5.5" rx="1.2" fill="#3b2207"/>
<rect x="440.0" y="328.5" width="2.6" height="33" fill="#4e240a"/>
<rect x="442.6" y="330" width="2.2" height="31" fill="#8a4c1b"/>
<rect x="439.7" y="365" width="3.2" height="5.5" rx="1.2" fill="#3b2207"/>
<rect x="446.1" y="328.5" width="2.6" height="33" fill="#4e240a"/>
<rect x="448.7" y="330" width="2.2" height="31" fill="#8a4c1b"/>
<rect x="445.8" y="365" width="3.2" height="5.5" rx="1.2" fill="#3b2207"/>
<rect x="452.2" y="328.5" width="2.6" height="33" fill="#4e240a"/>
<rect x="454.8" y="330" width="2.2" height="31" fill="#8a4c1b"/>
<rect x="451.9" y="365" width="3.2" height="5.5" rx="1.2" fill="#3b2207"/>
<rect x="458.3" y="328.5" width="2.6" height="33" fill="#4e240a"/>
<rect x="460.9" y="330" width="2.2" height="31" fill="#8a4c1b"/>
<rect x="458.0" y="365" width="3.2" height="5.5" rx="1.2" fill="#3b2207"/>
<rect x="398.8" y="374" width="74" height="5" fill="#f5e06a"/>
<path d="M502.0,320 Q508.0,318 514.0,318 L529.0,318 Q535.0,319 540.0,325.5 L544.5,325.5 L544.5,332.5 L555.0,332.5 L555.0,379 L481.0,379 L481.0,332.5 L494.5,332.5 L494.5,325.5 L498.0,325.5 Z" fill="url(#portG)"/>
<path d="M503.0,322 Q509.0,320 515.0,320 L528.0,320 Q534.0,321 538.0,327 L538.0,330 L500.0,330 L500.0,326 Z" fill="#b9761f"/>
<path d="M497.0,328 L542.0,328 L542.0,335 L551.0,335 L551.0,364 L485.5,364 L485.5,335 L497.0,335 Z" fill="url(#portIn)"/>
<rect x="497.8" y="328.5" width="2.6" height="33" fill="#4e240a"/>
<rect x="500.4" y="330" width="2.2" height="31" fill="#8a4c1b"/>
<rect x="497.5" y="365" width="3.2" height="5.5" rx="1.2" fill="#3b2207"/>
<rect x="503.9" y="328.5" width="2.6" height="33" fill="#4e240a"/>
<rect x="506.5" y="330" width="2.2" height="31" fill="#8a4c1b"/>
<rect x="503.6" y="365" width="3.2" height="5.5" rx="1.2" fill="#3b2207"/>
<rect x="510.0" y="328.5" width="2.6" height="33" fill="#4e240a"/>
<rect x="512.6" y="330" width="2.2" height="31" fill="#8a4c1b"/>
<rect x="509.7" y="365" width="3.2" height="5.5" rx="1.2" fill="#3b2207"/>
<rect x="516.1" y="328.5" width="2.6" height="33" fill="#4e240a"/>
<rect x="518.7" y="330" width="2.2" height="31" fill="#8a4c1b"/>
<rect x="515.8" y="365" width="3.2" height="5.5" rx="1.2" fill="#3b2207"/>
<rect x="522.2" y="328.5" width="2.6" height="33" fill="#4e240a"/>
<rect x="524.8" y="330" width="2.2" height="31" fill="#8a4c1b"/>
<rect x="521.9" y="365" width="3.2" height="5.5" rx="1.2" fill="#3b2207"/>
<rect x="528.3" y="328.5" width="2.6" height="33" fill="#4e240a"/>
<rect x="530.9" y="330" width="2.2" height="31" fill="#8a4c1b"/>
<rect x="528.0" y="365" width="3.2" height="5.5" rx="1.2" fill="#3b2207"/>
<rect x="534.4" y="328.5" width="2.6" height="33" fill="#4e240a"/>
<rect x="537.0" y="330" width="2.2" height="31" fill="#8a4c1b"/>
<rect x="534.1" y="365" width="3.2" height="5.5" rx="1.2" fill="#3b2207"/>
<rect x="540.5" y="328.5" width="2.6" height="33" fill="#4e240a"/>
<rect x="543.1" y="330" width="2.2" height="31" fill="#8a4c1b"/>
<rect x="540.2" y="365" width="3.2" height="5.5" rx="1.2" fill="#3b2207"/>
<rect x="481.0" y="374" width="74" height="5" fill="#f5e06a"/>
<rect x="579" y="356.5" width="37.5" height="21.5" rx="1.5" fill="#0c0d0f"/>
<rect x="583" y="361" width="14" height="7" fill="#262a2d"/>
<rect x="616" y="358" width="2.6" height="19" fill="#eef2f5"/>
<circle cx="270.8" cy="392.6" r="2.7" fill="#15171a"/>
<circle cx="350" cy="392.6" r="2.7" fill="#15171a"/>
<circle cx="432.3" cy="392.6" r="2.7" fill="#15171a"/>
<circle cx="515.5" cy="392.6" r="2.7" fill="#15171a"/>
<circle cx="596" cy="392.6" r="2.7" fill="#15171a"/>
<text x="272" y="409" font-size="11" fill="#c3cad1" text-anchor="middle">1</text>
<text x="349" y="409" font-size="11" fill="#c3cad1" text-anchor="middle" textLength="68">PoE OUT</text>
<text x="443" y="394" font-size="11" fill="#c3cad1" text-anchor="middle">2</text>
<text x="514" y="409" font-size="11" fill="#c3cad1" text-anchor="middle" textLength="56">PoE IN</text>
<text x="561" y="396" font-size="11" fill="#c3cad1" text-anchor="middle">OFF</text>
<text x="626" y="396" font-size="11" fill="#c3cad1" text-anchor="middle">ON</text>
</g><g transform="translate(3.5,792)">
<path d="M196,417 Q186.5,417 186.5,407 L186.5,252 Q187,238 198,231 Q206,226.5 232,221 L238,212.5 L296,214.5 L302,219.5 L422,219.5 L482.5,219.4 L484.5,216.6 L606,217 L611,222 L616,229.5 L658,239.5 Q663.5,242 664.8,251 L685,303.5 L685,407 Q685,417 675,417 Z" fill="url(#swBody)"/>
<path d="M186.5,304 L186.5,252 Q187,238 198,231 Q206,226.5 232,221 L238,212.5 L262,213.5 L262,303 Z" fill="url(#swLeft)"/>
<path d="M650,238 L658,239.5 Q663.5,242 664.8,251 L685,303.5 L668,303.5 Z" fill="#cfd6dc" opacity="0.85"/>
<path d="M664.8,251 L685,303.5 L685,407" fill="none" stroke="#e1e6ea" stroke-width="1.6"/>
<path d="M188,264 Q300,253 372,254 Q408,253 417,238 L421,222" fill="none" stroke="#b3bdc7" stroke-width="3"/>
<path d="M420.6,221 L423.4,234.4 Q434,252 437.5,270 L439.4,303" fill="none" stroke="#87919c" stroke-width="1.3"/>
<path d="M437.8,272 Q439,259.5 452,258.8 L662.5,258.6" fill="none" stroke="#b3bdc7" stroke-width="3"/>
<path d="M255.4,320 Q261.4,318 267.4,318 L282.4,318 Q288.4,319 293.4,325.5 L297.9,325.5 L297.9,332.5 L308.4,332.5 L308.4,379 L234.4,379 L234.4,332.5 L247.9,332.5 L247.9,325.5 L251.4,325.5 Z" fill="url(#portG)"/>
<path d="M256.4,322 Q262.4,320 268.4,320 L281.4,320 Q287.4,321 291.4,327 L291.4,330 L253.4,330 L253.4,326 Z" fill="#b9761f"/>
<path d="M250.4,328 L295.4,328 L295.4,335 L304.4,335 L304.4,364 L238.9,364 L238.9,335 L250.4,335 Z" fill="url(#portIn)"/>
<rect x="251.2" y="328.5" width="2.6" height="33" fill="#4e240a"/>
<rect x="253.8" y="330" width="2.2" height="31" fill="#8a4c1b"/>
<rect x="250.9" y="365" width="3.2" height="5.5" rx="1.2" fill="#3b2207"/>
<rect x="257.3" y="328.5" width="2.6" height="33" fill="#4e240a"/>
<rect x="259.9" y="330" width="2.2" height="31" fill="#8a4c1b"/>
<rect x="257.0" y="365" width="3.2" height="5.5" rx="1.2" fill="#3b2207"/>
<rect x="263.4" y="328.5" width="2.6" height="33" fill="#4e240a"/>
<rect x="266.0" y="330" width="2.2" height="31" fill="#8a4c1b"/>
<rect x="263.1" y="365" width="3.2" height="5.5" rx="1.2" fill="#3b2207"/>
<rect x="269.5" y="328.5" width="2.6" height="33" fill="#4e240a"/>
<rect x="272.1" y="330" width="2.2" height="31" fill="#8a4c1b"/>
<rect x="269.2" y="365" width="3.2" height="5.5" rx="1.2" fill="#3b2207"/>
<rect x="275.6" y="328.5" width="2.6" height="33" fill="#4e240a"/>
<rect x="278.2" y="330" width="2.2" height="31" fill="#8a4c1b"/>
<rect x="275.3" y="365" width="3.2" height="5.5" rx="1.2" fill="#3b2207"/>
<rect x="281.7" y="328.5" width="2.6" height="33" fill="#4e240a"/>
<rect x="284.3" y="330" width="2.2" height="31" fill="#8a4c1b"/>
<rect x="281.4" y="365" width="3.2" height="5.5" rx="1.2" fill="#3b2207"/>
<rect x="287.8" y="328.5" width="2.6" height="33" fill="#4e240a"/>
<rect x="290.4" y="330" width="2.2" height="31" fill="#8a4c1b"/>
<rect x="287.5" y="365" width="3.2" height="5.5" rx="1.2" fill="#3b2207"/>
<rect x="293.9" y="328.5" width="2.6" height="33" fill="#4e240a"/>
<rect x="296.5" y="330" width="2.2" height="31" fill="#8a4c1b"/>
<rect x="293.6" y="365" width="3.2" height="5.5" rx="1.2" fill="#3b2207"/>
<rect x="234.4" y="374" width="74" height="5" fill="#f5e06a"/>
<path d="M337.6,320 Q343.6,318 349.6,318 L364.6,318 Q370.6,319 375.6,325.5 L380.1,325.5 L380.1,332.5 L390.6,332.5 L390.6,379 L316.6,379 L316.6,332.5 L330.1,332.5 L330.1,325.5 L333.6,325.5 Z" fill="url(#portG)"/>
<path d="M338.6,322 Q344.6,320 350.6,320 L363.6,320 Q369.6,321 373.6,327 L373.6,330 L335.6,330 L335.6,326 Z" fill="#b9761f"/>
<path d="M332.6,328 L377.6,328 L377.6,335 L386.6,335 L386.6,364 L321.1,364 L321.1,335 L332.6,335 Z" fill="url(#portIn)"/>
<rect x="333.4" y="328.5" width="2.6" height="33" fill="#4e240a"/>
<rect x="336.0" y="330" width="2.2" height="31" fill="#8a4c1b"/>
<rect x="333.1" y="365" width="3.2" height="5.5" rx="1.2" fill="#3b2207"/>
<rect x="339.5" y="328.5" width="2.6" height="33" fill="#4e240a"/>
<rect x="342.1" y="330" width="2.2" height="31" fill="#8a4c1b"/>
<rect x="339.2" y="365" width="3.2" height="5.5" rx="1.2" fill="#3b2207"/>
<rect x="345.6" y="328.5" width="2.6" height="33" fill="#4e240a"/>
<rect x="348.2" y="330" width="2.2" height="31" fill="#8a4c1b"/>
<rect x="345.3" y="365" width="3.2" height="5.5" rx="1.2" fill="#3b2207"/>
<rect x="351.7" y="328.5" width="2.6" height="33" fill="#4e240a"/>
<rect x="354.3" y="330" width="2.2" height="31" fill="#8a4c1b"/>
<rect x="351.4" y="365" width="3.2" height="5.5" rx="1.2" fill="#3b2207"/>
<rect x="357.8" y="328.5" width="2.6" height="33" fill="#4e240a"/>
<rect x="360.4" y="330" width="2.2" height="31" fill="#8a4c1b"/>
<rect x="357.5" y="365" width="3.2" height="5.5" rx="1.2" fill="#3b2207"/>
<rect x="363.9" y="328.5" width="2.6" height="33" fill="#4e240a"/>
<rect x="366.5" y="330" width="2.2" height="31" fill="#8a4c1b"/>
<rect x="363.6" y="365" width="3.2" height="5.5" rx="1.2" fill="#3b2207"/>
<rect x="370.0" y="328.5" width="2.6" height="33" fill="#4e240a"/>
<rect x="372.6" y="330" width="2.2" height="31" fill="#8a4c1b"/>
<rect x="369.7" y="365" width="3.2" height="5.5" rx="1.2" fill="#3b2207"/>
<rect x="376.1" y="328.5" width="2.6" height="33" fill="#4e240a"/>
<rect x="378.7" y="330" width="2.2" height="31" fill="#8a4c1b"/>
<rect x="375.8" y="365" width="3.2" height="5.5" rx="1.2" fill="#3b2207"/>
<rect x="316.6" y="374" width="74" height="5" fill="#f5e06a"/>
<path d="M419.8,320 Q425.8,318 431.8,318 L446.8,318 Q452.8,319 457.8,325.5 L462.3,325.5 L462.3,332.5 L472.8,332.5 L472.8,379 L398.8,379 L398.8,332.5 L412.3,332.5 L412.3,325.5 L415.8,325.5 Z" fill="url(#portG)"/>
<path d="M420.8,322 Q426.8,320 432.8,320 L445.8,320 Q451.8,321 455.8,327 L455.8,330 L417.8,330 L417.8,326 Z" fill="#b9761f"/>
<path d="M414.8,328 L459.8,328 L459.8,335 L468.8,335 L468.8,364 L403.3,364 L403.3,335 L414.8,335 Z" fill="url(#portIn)"/>
<rect x="415.6" y="328.5" width="2.6" height="33" fill="#4e240a"/>
<rect x="418.2" y="330" width="2.2" height="31" fill="#8a4c1b"/>
<rect x="415.3" y="365" width="3.2" height="5.5" rx="1.2" fill="#3b2207"/>
<rect x="421.7" y="328.5" width="2.6" height="33" fill="#4e240a"/>
<rect x="424.3" y="330" width="2.2" height="31" fill="#8a4c1b"/>
<rect x="421.4" y="365" width="3.2" height="5.5" rx="1.2" fill="#3b2207"/>
<rect x="427.8" y="328.5" width="2.6" height="33" fill="#4e240a"/>
<rect x="430.4" y="330" width="2.2" height="31" fill="#8a4c1b"/>
<rect x="427.5" y="365" width="3.2" height="5.5" rx="1.2" fill="#3b2207"/>
<rect x="433.9" y="328.5" width="2.6" height="33" fill="#4e240a"/>
<rect x="436.5" y="330" width="2.2" height="31" fill="#8a4c1b"/>
<rect x="433.6" y="365" width="3.2" height="5.5" rx="1.2" fill="#3b2207"/>
<rect x="440.0" y="328.5" width="2.6" height="33" fill="#4e240a"/>
<rect x="442.6" y="330" width="2.2" height="31" fill="#8a4c1b"/>
<rect x="439.7" y="365" width="3.2" height="5.5" rx="1.2" fill="#3b2207"/>
<rect x="446.1" y="328.5" width="2.6" height="33" fill="#4e240a"/>
<rect x="448.7" y="330" width="2.2" height="31" fill="#8a4c1b"/>
<rect x="445.8" y="365" width="3.2" height="5.5" rx="1.2" fill="#3b2207"/>
<rect x="452.2" y="328.5" width="2.6" height="33" fill="#4e240a"/>
<rect x="454.8" y="330" width="2.2" height="31" fill="#8a4c1b"/>
<rect x="451.9" y="365" width="3.2" height="5.5" rx="1.2" fill="#3b2207"/>
<rect x="458.3" y="328.5" width="2.6" height="33" fill="#4e240a"/>
<rect x="460.9" y="330" width="2.2" height="31" fill="#8a4c1b"/>
<rect x="458.0" y="365" width="3.2" height="5.5" rx="1.2" fill="#3b2207"/>
<rect x="398.8" y="374" width="74" height="5" fill="#f5e06a"/>
<path d="M502.0,320 Q508.0,318 514.0,318 L529.0,318 Q535.0,319 540.0,325.5 L544.5,325.5 L544.5,332.5 L555.0,332.5 L555.0,379 L481.0,379 L481.0,332.5 L494.5,332.5 L494.5,325.5 L498.0,325.5 Z" fill="url(#portG)"/>
<path d="M503.0,322 Q509.0,320 515.0,320 L528.0,320 Q534.0,321 538.0,327 L538.0,330 L500.0,330 L500.0,326 Z" fill="#b9761f"/>
<path d="M497.0,328 L542.0,328 L542.0,335 L551.0,335 L551.0,364 L485.5,364 L485.5,335 L497.0,335 Z" fill="url(#portIn)"/>
<rect x="497.8" y="328.5" width="2.6" height="33" fill="#4e240a"/>
<rect x="500.4" y="330" width="2.2" height="31" fill="#8a4c1b"/>
<rect x="497.5" y="365" width="3.2" height="5.5" rx="1.2" fill="#3b2207"/>
<rect x="503.9" y="328.5" width="2.6" height="33" fill="#4e240a"/>
<rect x="506.5" y="330" width="2.2" height="31" fill="#8a4c1b"/>
<rect x="503.6" y="365" width="3.2" height="5.5" rx="1.2" fill="#3b2207"/>
<rect x="510.0" y="328.5" width="2.6" height="33" fill="#4e240a"/>
<rect x="512.6" y="330" width="2.2" height="31" fill="#8a4c1b"/>
<rect x="509.7" y="365" width="3.2" height="5.5" rx="1.2" fill="#3b2207"/>
<rect x="516.1" y="328.5" width="2.6" height="33" fill="#4e240a"/>
<rect x="518.7" y="330" width="2.2" height="31" fill="#8a4c1b"/>
<rect x="515.8" y="365" width="3.2" height="5.5" rx="1.2" fill="#3b2207"/>
<rect x="522.2" y="328.5" width="2.6" height="33" fill="#4e240a"/>
<rect x="524.8" y="330" width="2.2" height="31" fill="#8a4c1b"/>
<rect x="521.9" y="365" width="3.2" height="5.5" rx="1.2" fill="#3b2207"/>
<rect x="528.3" y="328.5" width="2.6" height="33" fill="#4e240a"/>
<rect x="530.9" y="330" width="2.2" height="31" fill="#8a4c1b"/>
<rect x="528.0" y="365" width="3.2" height="5.5" rx="1.2" fill="#3b2207"/>
<rect x="534.4" y="328.5" width="2.6" height="33" fill="#4e240a"/>
<rect x="537.0" y="330" width="2.2" height="31" fill="#8a4c1b"/>
<rect x="534.1" y="365" width="3.2" height="5.5" rx="1.2" fill="#3b2207"/>
<rect x="540.5" y="328.5" width="2.6" height="33" fill="#4e240a"/>
<rect x="543.1" y="330" width="2.2" height="31" fill="#8a4c1b"/>
<rect x="540.2" y="365" width="3.2" height="5.5" rx="1.2" fill="#3b2207"/>
<rect x="481.0" y="374" width="74" height="5" fill="#f5e06a"/>
<rect x="579" y="356.5" width="37.5" height="21.5" rx="1.5" fill="#0c0d0f"/>
<rect x="583" y="361" width="14" height="7" fill="#262a2d"/>
<rect x="616" y="358" width="2.6" height="19" fill="#eef2f5"/>
<circle cx="270.8" cy="392.6" r="2.7" fill="#15171a"/>
<circle cx="350" cy="392.6" r="2.7" fill="#15171a"/>
<circle cx="432.3" cy="392.6" r="2.7" fill="#15171a"/>
<circle cx="515.5" cy="392.6" r="2.7" fill="#15171a"/>
<circle cx="596" cy="392.6" r="2.7" fill="#15171a"/>
<text x="272" y="409" font-size="11" fill="#c3cad1" text-anchor="middle">1</text>
<text x="349" y="409" font-size="11" fill="#c3cad1" text-anchor="middle" textLength="68">PoE OUT</text>
<text x="443" y="394" font-size="11" fill="#c3cad1" text-anchor="middle">2</text>
<text x="514" y="409" font-size="11" fill="#c3cad1" text-anchor="middle" textLength="56">PoE IN</text>
<text x="561" y="396" font-size="11" fill="#c3cad1" text-anchor="middle">OFF</text>
<text x="626" y="396" font-size="11" fill="#c3cad1" text-anchor="middle">ON</text>
</g></g>
<g id="cablesw"><path d="M341.8,379 L341.8,440.6 A18,18 0 0 0 359.8,458.6 L921.1,458.6 A27,27 0 0 1 948.1,485.6 L948.1,524" fill="none" stroke="#ffffff" stroke-width="5.4" stroke-linecap="butt" stroke-linejoin="round"/>
<path d="M422.8,379 L422.8,422.4 A17,17 0 0 0 439.8,439.4 L977.1,439.4 A26,26 0 0 1 1003.1,465.4 L1003.1,520" fill="none" stroke="#ffffff" stroke-width="5.4" stroke-linecap="butt" stroke-linejoin="round"/>
<path d="M360.7,746 L360.7,799.9 A19,19 0 0 0 379.7,818.9 L938.9,818.9 A28,28 0 0 1 966.9,846.9 L966.9,888" fill="none" stroke="#ffffff" stroke-width="5.4" stroke-linecap="butt" stroke-linejoin="round"/>
<path d="M439.3,746 L439.3,780.5 A19,19 0 0 0 458.3,799.5 L994,799.5 A26,26 0 0 1 1020,825.5 L1020,880" fill="none" stroke="#ffffff" stroke-width="5.4" stroke-linecap="butt" stroke-linejoin="round"/>
<path d="M361,1188 L361,1242 A19,19 0 0 0 380,1261 L939.5,1261 A27,27 0 0 1 966.5,1288 L966.5,1330" fill="none" stroke="#ffffff" stroke-width="5.4" stroke-linecap="butt" stroke-linejoin="round"/>
<path d="M438,1184 L438,1223.5 A19,19 0 0 0 457,1242.5 L991.5,1242.5 A26,26 0 0 1 1017.5,1268.5 L1017.5,1320" fill="none" stroke="#ffffff" stroke-width="5.4" stroke-linecap="butt" stroke-linejoin="round"/></g>
<g id="cameras"><clipPath id="cc1"><rect x="49.0" y="-20" width="400" height="220"/></clipPath>
<g transform="translate(1054.5,497) scale(1.0)" clip-path="url(#cc1)">
<path d="M108,150 L112.5,166 L172,172.5 L209.5,168 L210,152 Z" fill="#c4c4c4"/>
<path d="M112,162 L172,168.5 L209.5,164.5 L209.5,168 L172,172.5 L112.5,166 Z" fill="#e6e6e6"/>
<path d="M-1,31 Q0,20 14,18 L171,6 L230,2.2 L253,1.2 L300,1.6 Q318,4 327,10 Q338,18.5 341.8,30 Q343,39 335,44.5 L308,59.5 L300,150 L153,159 L108.5,158 L59,150 Q45,147 31,134.5 Q25,127 17.5,104 L15,100.8 L4,98.6 L1.6,94 L-1,90.5 Z" fill="url(#camBody)"/>
<path d="M4,93 L123,98 L124,82 L140,79 L147,140 L153,159 L108.5,158 L59,150 Q45,147 31,134.5 Q25,127 17.5,104 L15,100.8 L4,98.6 Z" fill="#e3e3e3"/>
<path d="M3.9,92.8 L123.1,97.8" stroke="#cdcdcd" stroke-width="1.3" fill="none"/>
<path d="M125,86 L125,107" stroke="#6e6e6e" stroke-width="2" fill="none" stroke-dasharray="9 3"/>
<path d="M123.5,82.3 L201,50.5 L227,20" stroke="#fbfbfb" stroke-width="2.2" fill="none"/>
<path d="M139.5,80.5 L144,138 L151,157" stroke="#f8f8f8" stroke-width="3.5" fill="none"/>
<path d="M-1,0 L236,0 L232,12 L202,50 L141,80 L120,100 L-1,100 Z" fill="#000" opacity="0.2"/>
<path d="M226.9,22 Q229,12 236,9.6 Q244,6.4 255,5.6 L299,5 Q315,7.5 324.5,13 Q334.5,20.5 338.6,30.5 Q339.5,37.5 333,42 L307.5,55.8 L300,62 L236,34 Z" fill="#0b0b0b"/>
<path d="M140.8,79.6 L202,49.6 L207,158.5 L158,158 Q151,156 148.5,148 L144.3,137 Z" fill="url(#camSide)"/>
<path d="M141.5,81 L145.5,137 L150,149 Q152,156 159,157.3" stroke="#3a3a3a" stroke-width="2" fill="none"/>
<path d="M160,156.5 L207,156.5" stroke="#3c3c3c" stroke-width="4" fill="none"/>
<path d="M204.5,60 Q204.3,50 209,42.5 L224.5,19.5 Q229.5,12.5 238,14.6 L294,27.6 Q303.3,30 303.8,39 L307.8,141 Q308.5,155 297,157.5 Q256,164 222,159.8 Q209,158 208,147 Z" fill="#313131"/>
<path d="M224.5,19.5 Q229.5,12.5 238,14.6 L294,27.6 Q303.3,30 303.8,39 L304,48 L236,30 L214,40 Z" fill="#222" opacity="0.85"/>
<path d="M204.5,60 Q204.3,50 209,42.5 L224.5,19.5 Q229.5,12.5 238,14.6 L294,27.6 Q303.3,30 303.8,39 L307.8,141 Q308.5,155 297,157.5 Q256,164 222,159.8 Q209,158 208,147 Z" fill="none" stroke="#1c1c1c" stroke-width="2.2"/>
<path d="M213.5,149.5 Q216,153.2 226,153.8 Q256,156 290,149.2 Q298,147.3 300.5,142.5" stroke="#7d7d7d" stroke-width="2.4" fill="none"/>
<circle cx="298.8" cy="145.6" r="2.1" fill="#e0e0e0"/>
<circle cx="302.8" cy="32.5" r="1.8" fill="#101010"/>
<ellipse cx="255" cy="86.5" rx="24.3" ry="34.6" fill="#1a1a1a"/>
<path d="M232,80 Q236,56 255,52.5" stroke="#5c5c5c" stroke-width="1.4" fill="none"/>
<ellipse cx="256.5" cy="87.5" rx="18.8" ry="28.5" fill="#121212"/>
<ellipse cx="256.2" cy="87.6" rx="16.5" ry="25.5" fill="#454545"/>
<ellipse cx="255.8" cy="88" rx="11.5" ry="17.5" fill="#3a3a3a" stroke="#525252" stroke-width="1"/>
<ellipse cx="255.2" cy="88" rx="6.5" ry="10" fill="#444" stroke="#2c2c2c" stroke-width="1"/>
<path d="M249.5,90.5 L255,93.5" stroke="#e4e4e4" stroke-width="1.8" fill="none" stroke-linecap="round"/>
<path d="M251,82.5 L254.5,85.5" stroke="#9a9a9a" stroke-width="1.3" fill="none" stroke-linecap="round"/>
</g>
<g transform="translate(903.5,499) scale(1.0)">
<path d="M108,150 L112.5,166 L172,172.5 L209.5,168 L210,152 Z" fill="#c4c4c4"/>
<path d="M112,162 L172,168.5 L209.5,164.5 L209.5,168 L172,172.5 L112.5,166 Z" fill="#e6e6e6"/>
<path d="M-1,31 Q0,20 14,18 L171,6 L230,2.2 L253,1.2 L300,1.6 Q318,4 327,10 Q338,18.5 341.8,30 Q343,39 335,44.5 L308,59.5 L300,150 L153,159 L108.5,158 L59,150 Q45,147 31,134.5 Q25,127 17.5,104 L15,100.8 L4,98.6 L1.6,94 L-1,90.5 Z" fill="url(#camBody)"/>
<path d="M4,93 L123,98 L124,82 L140,79 L147,140 L153,159 L108.5,158 L59,150 Q45,147 31,134.5 Q25,127 17.5,104 L15,100.8 L4,98.6 Z" fill="#e3e3e3"/>
<path d="M3.9,92.8 L123.1,97.8" stroke="#cdcdcd" stroke-width="1.3" fill="none"/>
<path d="M125,86 L125,107" stroke="#6e6e6e" stroke-width="2" fill="none" stroke-dasharray="9 3"/>
<path d="M123.5,82.3 L201,50.5 L227,20" stroke="#fbfbfb" stroke-width="2.2" fill="none"/>
<path d="M139.5,80.5 L144,138 L151,157" stroke="#f8f8f8" stroke-width="3.5" fill="none"/>
<path d="M226.9,22 Q229,12 236,9.6 Q244,6.4 255,5.6 L299,5 Q315,7.5 324.5,13 Q334.5,20.5 338.6,30.5 Q339.5,37.5 333,42 L307.5,55.8 L300,62 L236,34 Z" fill="#0b0b0b"/>
<path d="M140.8,79.6 L202,49.6 L207,158.5 L158,158 Q151,156 148.5,148 L144.3,137 Z" fill="url(#camSide)"/>
<path d="M141.5,81 L145.5,137 L150,149 Q152,156 159,157.3" stroke="#3a3a3a" stroke-width="2" fill="none"/>
<path d="M160,156.5 L207,156.5" stroke="#3c3c3c" stroke-width="4" fill="none"/>
<path d="M204.5,60 Q204.3,50 209,42.5 L224.5,19.5 Q229.5,12.5 238,14.6 L294,27.6 Q303.3,30 303.8,39 L307.8,141 Q308.5,155 297,157.5 Q256,164 222,159.8 Q209,158 208,147 Z" fill="#313131"/>
<path d="M224.5,19.5 Q229.5,12.5 238,14.6 L294,27.6 Q303.3,30 303.8,39 L304,48 L236,30 L214,40 Z" fill="#222" opacity="0.85"/>
<path d="M204.5,60 Q204.3,50 209,42.5 L224.5,19.5 Q229.5,12.5 238,14.6 L294,27.6 Q303.3,30 303.8,39 L307.8,141 Q308.5,155 297,157.5 Q256,164 222,159.8 Q209,158 208,147 Z" fill="none" stroke="#1c1c1c" stroke-width="2.2"/>
<path d="M213.5,149.5 Q216,153.2 226,153.8 Q256,156 290,149.2 Q298,147.3 300.5,142.5" stroke="#7d7d7d" stroke-width="2.4" fill="none"/>
<circle cx="298.8" cy="145.6" r="2.1" fill="#e0e0e0"/>
<circle cx="302.8" cy="32.5" r="1.8" fill="#101010"/>
<ellipse cx="255" cy="86.5" rx="24.3" ry="34.6" fill="#1a1a1a"/>
<path d="M232,80 Q236,56 255,52.5" stroke="#5c5c5c" stroke-width="1.4" fill="none"/>
<ellipse cx="256.5" cy="87.5" rx="18.8" ry="28.5" fill="#121212"/>
<ellipse cx="256.2" cy="87.6" rx="16.5" ry="25.5" fill="#454545"/>
<ellipse cx="255.8" cy="88" rx="11.5" ry="17.5" fill="#3a3a3a" stroke="#525252" stroke-width="1"/>
<ellipse cx="255.2" cy="88" rx="6.5" ry="10" fill="#444" stroke="#2c2c2c" stroke-width="1"/>
<path d="M249.5,90.5 L255,93.5" stroke="#e4e4e4" stroke-width="1.8" fill="none" stroke-linecap="round"/>
<path d="M251,82.5 L254.5,85.5" stroke="#9a9a9a" stroke-width="1.3" fill="none" stroke-linecap="round"/>
</g>
<clipPath id="cc2"><rect x="68.0" y="-20" width="400" height="220"/></clipPath>
<g transform="translate(1008.5,854.5) scale(1.106)" clip-path="url(#cc2)">
<path d="M108,150 L112.5,166 L172,172.5 L209.5,168 L210,152 Z" fill="#c4c4c4"/>
<path d="M112,162 L172,168.5 L209.5,164.5 L209.5,168 L172,172.5 L112.5,166 Z" fill="#e6e6e6"/>
<path d="M-1,31 Q0,20 14,18 L171,6 L230,2.2 L253,1.2 L300,1.6 Q318,4 327,10 Q338,18.5 341.8,30 Q343,39 335,44.5 L308,59.5 L300,150 L153,159 L108.5,158 L59,150 Q45,147 31,134.5 Q25,127 17.5,104 L15,100.8 L4,98.6 L1.6,94 L-1,90.5 Z" fill="url(#camBody)"/>
<path d="M4,93 L123,98 L124,82 L140,79 L147,140 L153,159 L108.5,158 L59,150 Q45,147 31,134.5 Q25,127 17.5,104 L15,100.8 L4,98.6 Z" fill="#e3e3e3"/>
<path d="M3.9,92.8 L123.1,97.8" stroke="#cdcdcd" stroke-width="1.3" fill="none"/>
<path d="M125,86 L125,107" stroke="#6e6e6e" stroke-width="2" fill="none" stroke-dasharray="9 3"/>
<path d="M123.5,82.3 L201,50.5 L227,20" stroke="#fbfbfb" stroke-width="2.2" fill="none"/>
<path d="M139.5,80.5 L144,138 L151,157" stroke="#f8f8f8" stroke-width="3.5" fill="none"/>
<path d="M-1,0 L236,0 L232,12 L202,50 L141,80 L120,100 L-1,100 Z" fill="#000" opacity="0.2"/>
<path d="M226.9,22 Q229,12 236,9.6 Q244,6.4 255,5.6 L299,5 Q315,7.5 324.5,13 Q334.5,20.5 338.6,30.5 Q339.5,37.5 333,42 L307.5,55.8 L300,62 L236,34 Z" fill="#0b0b0b"/>
<path d="M140.8,79.6 L202,49.6 L207,158.5 L158,158 Q151,156 148.5,148 L144.3,137 Z" fill="url(#camSide)"/>
<path d="M141.5,81 L145.5,137 L150,149 Q152,156 159,157.3" stroke="#3a3a3a" stroke-width="2" fill="none"/>
<path d="M160,156.5 L207,156.5" stroke="#3c3c3c" stroke-width="4" fill="none"/>
<path d="M204.5,60 Q204.3,50 209,42.5 L224.5,19.5 Q229.5,12.5 238,14.6 L294,27.6 Q303.3,30 303.8,39 L307.8,141 Q308.5,155 297,157.5 Q256,164 222,159.8 Q209,158 208,147 Z" fill="#313131"/>
<path d="M224.5,19.5 Q229.5,12.5 238,14.6 L294,27.6 Q303.3,30 303.8,39 L304,48 L236,30 L214,40 Z" fill="#222" opacity="0.85"/>
<path d="M204.5,60 Q204.3,50 209,42.5 L224.5,19.5 Q229.5,12.5 238,14.6 L294,27.6 Q303.3,30 303.8,39 L307.8,141 Q308.5,155 297,157.5 Q256,164 222,159.8 Q209,158 208,147 Z" fill="none" stroke="#1c1c1c" stroke-width="2.2"/>
<path d="M213.5,149.5 Q216,153.2 226,153.8 Q256,156 290,149.2 Q298,147.3 300.5,142.5" stroke="#7d7d7d" stroke-width="2.4" fill="none"/>
<circle cx="298.8" cy="145.6" r="2.1" fill="#e0e0e0"/>
<circle cx="302.8" cy="32.5" r="1.8" fill="#101010"/>
<ellipse cx="255" cy="86.5" rx="24.3" ry="34.6" fill="#1a1a1a"/>
<path d="M232,80 Q236,56 255,52.5" stroke="#5c5c5c" stroke-width="1.4" fill="none"/>
<ellipse cx="256.5" cy="87.5" rx="18.8" ry="28.5" fill="#121212"/>
<ellipse cx="256.2" cy="87.6" rx="16.5" ry="25.5" fill="#454545"/>
<ellipse cx="255.8" cy="88" rx="11.5" ry="17.5" fill="#3a3a3a" stroke="#525252" stroke-width="1"/>
<ellipse cx="255.2" cy="88" rx="6.5" ry="10" fill="#444" stroke="#2c2c2c" stroke-width="1"/>
<path d="M249.5,90.5 L255,93.5" stroke="#e4e4e4" stroke-width="1.8" fill="none" stroke-linecap="round"/>
<path d="M251,82.5 L254.5,85.5" stroke="#9a9a9a" stroke-width="1.3" fill="none" stroke-linecap="round"/>
</g>
<g transform="translate(862.5,861) scale(1.106)">
<path d="M108,150 L112.5,166 L172,172.5 L209.5,168 L210,152 Z" fill="#c4c4c4"/>
<path d="M112,162 L172,168.5 L209.5,164.5 L209.5,168 L172,172.5 L112.5,166 Z" fill="#e6e6e6"/>
<path d="M-1,31 Q0,20 14,18 L171,6 L230,2.2 L253,1.2 L300,1.6 Q318,4 327,10 Q338,18.5 341.8,30 Q343,39 335,44.5 L308,59.5 L300,150 L153,159 L108.5,158 L59,150 Q45,147 31,134.5 Q25,127 17.5,104 L15,100.8 L4,98.6 L1.6,94 L-1,90.5 Z" fill="url(#camBody)"/>
<path d="M4,93 L123,98 L124,82 L140,79 L147,140 L153,159 L108.5,158 L59,150 Q45,147 31,134.5 Q25,127 17.5,104 L15,100.8 L4,98.6 Z" fill="#e3e3e3"/>
<path d="M3.9,92.8 L123.1,97.8" stroke="#cdcdcd" stroke-width="1.3" fill="none"/>
<path d="M125,86 L125,107" stroke="#6e6e6e" stroke-width="2" fill="none" stroke-dasharray="9 3"/>
<path d="M123.5,82.3 L201,50.5 L227,20" stroke="#fbfbfb" stroke-width="2.2" fill="none"/>
<path d="M139.5,80.5 L144,138 L151,157" stroke="#f8f8f8" stroke-width="3.5" fill="none"/>
<path d="M226.9,22 Q229,12 236,9.6 Q244,6.4 255,5.6 L299,5 Q315,7.5 324.5,13 Q334.5,20.5 338.6,30.5 Q339.5,37.5 333,42 L307.5,55.8 L300,62 L236,34 Z" fill="#0b0b0b"/>
<path d="M140.8,79.6 L202,49.6 L207,158.5 L158,158 Q151,156 148.5,148 L144.3,137 Z" fill="url(#camSide)"/>
<path d="M141.5,81 L145.5,137 L150,149 Q152,156 159,157.3" stroke="#3a3a3a" stroke-width="2" fill="none"/>
<path d="M160,156.5 L207,156.5" stroke="#3c3c3c" stroke-width="4" fill="none"/>
<path d="M204.5,60 Q204.3,50 209,42.5 L224.5,19.5 Q229.5,12.5 238,14.6 L294,27.6 Q303.3,30 303.8,39 L307.8,141 Q308.5,155 297,157.5 Q256,164 222,159.8 Q209,158 208,147 Z" fill="#313131"/>
<path d="M224.5,19.5 Q229.5,12.5 238,14.6 L294,27.6 Q303.3,30 303.8,39 L304,48 L236,30 L214,40 Z" fill="#222" opacity="0.85"/>
<path d="M204.5,60 Q204.3,50 209,42.5 L224.5,19.5 Q229.5,12.5 238,14.6 L294,27.6 Q303.3,30 303.8,39 L307.8,141 Q308.5,155 297,157.5 Q256,164 222,159.8 Q209,158 208,147 Z" fill="none" stroke="#1c1c1c" stroke-width="2.2"/>
<path d="M213.5,149.5 Q216,153.2 226,153.8 Q256,156 290,149.2 Q298,147.3 300.5,142.5" stroke="#7d7d7d" stroke-width="2.4" fill="none"/>
<circle cx="298.8" cy="145.6" r="2.1" fill="#e0e0e0"/>
<circle cx="302.8" cy="32.5" r="1.8" fill="#101010"/>
<ellipse cx="255" cy="86.5" rx="24.3" ry="34.6" fill="#1a1a1a"/>
<path d="M232,80 Q236,56 255,52.5" stroke="#5c5c5c" stroke-width="1.4" fill="none"/>
<ellipse cx="256.5" cy="87.5" rx="18.8" ry="28.5" fill="#121212"/>
<ellipse cx="256.2" cy="87.6" rx="16.5" ry="25.5" fill="#454545"/>
<ellipse cx="255.8" cy="88" rx="11.5" ry="17.5" fill="#3a3a3a" stroke="#525252" stroke-width="1"/>
<ellipse cx="255.2" cy="88" rx="6.5" ry="10" fill="#444" stroke="#2c2c2c" stroke-width="1"/>
<path d="M249.5,90.5 L255,93.5" stroke="#e4e4e4" stroke-width="1.8" fill="none" stroke-linecap="round"/>
<path d="M251,82.5 L254.5,85.5" stroke="#9a9a9a" stroke-width="1.3" fill="none" stroke-linecap="round"/>
</g>
<clipPath id="cc3"><rect x="82.4" y="-20" width="400" height="220"/></clipPath>
<g transform="translate(943.5,1288) scale(1.212)" clip-path="url(#cc3)">
<path d="M108,150 L112.5,166 L172,172.5 L209.5,168 L210,152 Z" fill="#c4c4c4"/>
<path d="M112,162 L172,168.5 L209.5,164.5 L209.5,168 L172,172.5 L112.5,166 Z" fill="#e6e6e6"/>
<path d="M-1,31 Q0,20 14,18 L171,6 L230,2.2 L253,1.2 L300,1.6 Q318,4 327,10 Q338,18.5 341.8,30 Q343,39 335,44.5 L308,59.5 L300,150 L153,159 L108.5,158 L59,150 Q45,147 31,134.5 Q25,127 17.5,104 L15,100.8 L4,98.6 L1.6,94 L-1,90.5 Z" fill="url(#camBody)"/>
<path d="M4,93 L123,98 L124,82 L140,79 L147,140 L153,159 L108.5,158 L59,150 Q45,147 31,134.5 Q25,127 17.5,104 L15,100.8 L4,98.6 Z" fill="#e3e3e3"/>
<path d="M3.9,92.8 L123.1,97.8" stroke="#cdcdcd" stroke-width="1.3" fill="none"/>
<path d="M125,86 L125,107" stroke="#6e6e6e" stroke-width="2" fill="none" stroke-dasharray="9 3"/>
<path d="M123.5,82.3 L201,50.5 L227,20" stroke="#fbfbfb" stroke-width="2.2" fill="none"/>
<path d="M139.5,80.5 L144,138 L151,157" stroke="#f8f8f8" stroke-width="3.5" fill="none"/>
<path d="M-1,0 L236,0 L232,12 L202,50 L141,80 L120,100 L-1,100 Z" fill="#000" opacity="0.2"/>
<path d="M226.9,22 Q229,12 236,9.6 Q244,6.4 255,5.6 L299,5 Q315,7.5 324.5,13 Q334.5,20.5 338.6,30.5 Q339.5,37.5 333,42 L307.5,55.8 L300,62 L236,34 Z" fill="#0b0b0b"/>
<path d="M140.8,79.6 L202,49.6 L207,158.5 L158,158 Q151,156 148.5,148 L144.3,137 Z" fill="url(#camSide)"/>
<path d="M141.5,81 L145.5,137 L150,149 Q152,156 159,157.3" stroke="#3a3a3a" stroke-width="2" fill="none"/>
<path d="M160,156.5 L207,156.5" stroke="#3c3c3c" stroke-width="4" fill="none"/>
<path d="M204.5,60 Q204.3,50 209,42.5 L224.5,19.5 Q229.5,12.5 238,14.6 L294,27.6 Q303.3,30 303.8,39 L307.8,141 Q308.5,155 297,157.5 Q256,164 222,159.8 Q209,158 208,147 Z" fill="#313131"/>
<path d="M224.5,19.5 Q229.5,12.5 238,14.6 L294,27.6 Q303.3,30 303.8,39 L304,48 L236,30 L214,40 Z" fill="#222" opacity="0.85"/>
<path d="M204.5,60 Q204.3,50 209,42.5 L224.5,19.5 Q229.5,12.5 238,14.6 L294,27.6 Q303.3,30 303.8,39 L307.8,141 Q308.5,155 297,157.5 Q256,164 222,159.8 Q209,158 208,147 Z" fill="none" stroke="#1c1c1c" stroke-width="2.2"/>
<path d="M213.5,149.5 Q216,153.2 226,153.8 Q256,156 290,149.2 Q298,147.3 300.5,142.5" stroke="#7d7d7d" stroke-width="2.4" fill="none"/>
<circle cx="298.8" cy="145.6" r="2.1" fill="#e0e0e0"/>
<circle cx="302.8" cy="32.5" r="1.8" fill="#101010"/>
<ellipse cx="255" cy="86.5" rx="24.3" ry="34.6" fill="#1a1a1a"/>
<path d="M232,80 Q236,56 255,52.5" stroke="#5c5c5c" stroke-width="1.4" fill="none"/>
<ellipse cx="256.5" cy="87.5" rx="18.8" ry="28.5" fill="#121212"/>
<ellipse cx="256.2" cy="87.6" rx="16.5" ry="25.5" fill="#454545"/>
<ellipse cx="255.8" cy="88" rx="11.5" ry="17.5" fill="#3a3a3a" stroke="#525252" stroke-width="1"/>
<ellipse cx="255.2" cy="88" rx="6.5" ry="10" fill="#444" stroke="#2c2c2c" stroke-width="1"/>
<path d="M249.5,90.5 L255,93.5" stroke="#e4e4e4" stroke-width="1.8" fill="none" stroke-linecap="round"/>
<path d="M251,82.5 L254.5,85.5" stroke="#9a9a9a" stroke-width="1.3" fill="none" stroke-linecap="round"/>
</g>
<g transform="translate(801,1300.5) scale(1.212)">
<path d="M108,150 L112.5,166 L172,172.5 L209.5,168 L210,152 Z" fill="#c4c4c4"/>
<path d="M112,162 L172,168.5 L209.5,164.5 L209.5,168 L172,172.5 L112.5,166 Z" fill="#e6e6e6"/>
<path d="M-1,31 Q0,20 14,18 L171,6 L230,2.2 L253,1.2 L300,1.6 Q318,4 327,10 Q338,18.5 341.8,30 Q343,39 335,44.5 L308,59.5 L300,150 L153,159 L108.5,158 L59,150 Q45,147 31,134.5 Q25,127 17.5,104 L15,100.8 L4,98.6 L1.6,94 L-1,90.5 Z" fill="url(#camBody)"/>
<path d="M4,93 L123,98 L124,82 L140,79 L147,140 L153,159 L108.5,158 L59,150 Q45,147 31,134.5 Q25,127 17.5,104 L15,100.8 L4,98.6 Z" fill="#e3e3e3"/>
<path d="M3.9,92.8 L123.1,97.8" stroke="#cdcdcd" stroke-width="1.3" fill="none"/>
<path d="M125,86 L125,107" stroke="#6e6e6e" stroke-width="2" fill="none" stroke-dasharray="9 3"/>
<path d="M123.5,82.3 L201,50.5 L227,20" stroke="#fbfbfb" stroke-width="2.2" fill="none"/>
<path d="M139.5,80.5 L144,138 L151,157" stroke="#f8f8f8" stroke-width="3.5" fill="none"/>
<path d="M226.9,22 Q229,12 236,9.6 Q244,6.4 255,5.6 L299,5 Q315,7.5 324.5,13 Q334.5,20.5 338.6,30.5 Q339.5,37.5 333,42 L307.5,55.8 L300,62 L236,34 Z" fill="#0b0b0b"/>
<path d="M140.8,79.6 L202,49.6 L207,158.5 L158,158 Q151,156 148.5,148 L144.3,137 Z" fill="url(#camSide)"/>
<path d="M141.5,81 L145.5,137 L150,149 Q152,156 159,157.3" stroke="#3a3a3a" stroke-width="2" fill="none"/>
<path d="M160,156.5 L207,156.5" stroke="#3c3c3c" stroke-width="4" fill="none"/>
<path d="M204.5,60 Q204.3,50 209,42.5 L224.5,19.5 Q229.5,12.5 238,14.6 L294,27.6 Q303.3,30 303.8,39 L307.8,141 Q308.5,155 297,157.5 Q256,164 222,159.8 Q209,158 208,147 Z" fill="#313131"/>
<path d="M224.5,19.5 Q229.5,12.5 238,14.6 L294,27.6 Q303.3,30 303.8,39 L304,48 L236,30 L214,40 Z" fill="#222" opacity="0.85"/>
<path d="M204.5,60 Q204.3,50 209,42.5 L224.5,19.5 Q229.5,12.5 238,14.6 L294,27.6 Q303.3,30 303.8,39 L307.8,141 Q308.5,155 297,157.5 Q256,164 222,159.8 Q209,158 208,147 Z" fill="none" stroke="#1c1c1c" stroke-width="2.2"/>
<path d="M213.5,149.5 Q216,153.2 226,153.8 Q256,156 290,149.2 Q298,147.3 300.5,142.5" stroke="#7d7d7d" stroke-width="2.4" fill="none"/>
<circle cx="298.8" cy="145.6" r="2.1" fill="#e0e0e0"/>
<circle cx="302.8" cy="32.5" r="1.8" fill="#101010"/>
<ellipse cx="255" cy="86.5" rx="24.3" ry="34.6" fill="#1a1a1a"/>
<path d="M232,80 Q236,56 255,52.5" stroke="#5c5c5c" stroke-width="1.4" fill="none"/>
<ellipse cx="256.5" cy="87.5" rx="18.8" ry="28.5" fill="#121212"/>
<ellipse cx="256.2" cy="87.6" rx="16.5" ry="25.5" fill="#454545"/>
<ellipse cx="255.8" cy="88" rx="11.5" ry="17.5" fill="#3a3a3a" stroke="#525252" stroke-width="1"/>
<ellipse cx="255.2" cy="88" rx="6.5" ry="10" fill="#444" stroke="#2c2c2c" stroke-width="1"/>
<path d="M249.5,90.5 L255,93.5" stroke="#e4e4e4" stroke-width="1.8" fill="none" stroke-linecap="round"/>
<path d="M251,82.5 L254.5,85.5" stroke="#9a9a9a" stroke-width="1.3" fill="none" stroke-linecap="round"/>
</g></g>
<g id="cablesb"><path d="M530,361.2 L953.8,361.2 A25,25 0 0 0 978.8,336.2 L978.8,265.5" fill="none" stroke="#2d64d7" stroke-width="7.5"/>
<path d="M256.8,379 L256.8,477.8 A31,31 0 0 0 287.8,508.8 L490.5,508.8 A31,31 0 0 1 521.5,539.8 L521.5,722" fill="none" stroke="#3780c8" stroke-width="4.6" stroke-linecap="butt" stroke-linejoin="round"/>
<path d="M273.6,746 L273.6,849 A30,30 0 0 0 303.6,879 L496.6,879 A30,30 0 0 1 526.6,909 L526.6,1142" fill="none" stroke="#3780c8" stroke-width="4.6" stroke-linecap="butt" stroke-linejoin="round"/></g>
<g id="texts"><text x="1101" y="108" font-size="39.5" fill="#ffffff" stroke="#ffffff" stroke-width="0.5" text-anchor="middle">PoE power adapter</text>
<text x="348.5" y="1406.3" font-size="82" font-weight="bold" fill="#ffffff" text-anchor="middle">Multiple</text>
<text x="347" y="1506" font-size="82" font-weight="bold" fill="#ffffff" text-anchor="middle">cascading</text></g>
</svg>
</body></html>
